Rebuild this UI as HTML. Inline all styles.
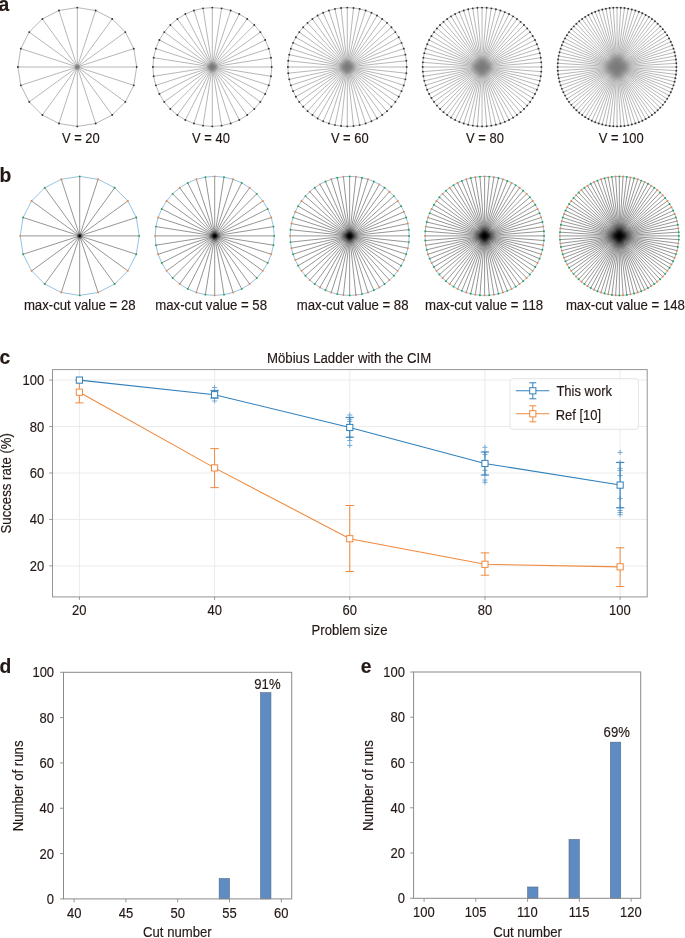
<!DOCTYPE html>
<html><head><meta charset="utf-8"><style>
html,body{margin:0;padding:0;background:#fff;}
svg{display:block;will-change:transform;}
text{font-family:"Liberation Sans",sans-serif;stroke:#231815;stroke-width:0.15px;}
</style></head><body>
<svg width="685" height="938" viewBox="0 0 685 938">

<path d="M136.70 67.00L17.90 67.00M133.79 48.64L20.81 85.36M125.36 32.09L29.24 101.91M112.21 18.94L42.39 115.06M95.66 10.51L58.94 123.49M77.30 7.60L77.30 126.40M58.94 10.51L95.66 123.49M42.39 18.94L112.21 115.06M29.24 32.09L125.36 101.91M20.81 48.64L133.79 85.36" stroke="#7a7a7a" stroke-width="0.55" fill="none"/>
<defs><radialGradient id="ga20"><stop offset="0" stop-color="#7a7a7a" stop-opacity="0.85"/><stop offset="0.5" stop-color="#7a7a7a" stop-opacity="0.6"/><stop offset="0.8" stop-color="#7a7a7a" stop-opacity="0.2"/><stop offset="1" stop-color="#7a7a7a" stop-opacity="0"/></radialGradient></defs><circle cx="77.30" cy="67.00" r="3.60" fill="url(#ga20)"/>
<path d="M136.70 67.00L133.79 48.64L125.36 32.09L112.21 18.94L95.66 10.51L77.30 7.60L58.94 10.51L42.39 18.94L29.24 32.09L20.81 48.64L17.90 67.00L20.81 85.36L29.24 101.91L42.39 115.06L58.94 123.49L77.30 126.40L95.66 123.49L112.21 115.06L125.36 101.91L133.79 85.36Z" stroke="#7a7a7a" stroke-width="0.55" fill="none"/>
<circle cx="136.70" cy="67.00" r="0.95" fill="#333"/>
<circle cx="133.79" cy="48.64" r="0.95" fill="#333"/>
<circle cx="125.36" cy="32.09" r="0.95" fill="#333"/>
<circle cx="112.21" cy="18.94" r="0.95" fill="#333"/>
<circle cx="95.66" cy="10.51" r="0.95" fill="#333"/>
<circle cx="77.30" cy="7.60" r="0.95" fill="#333"/>
<circle cx="58.94" cy="10.51" r="0.95" fill="#333"/>
<circle cx="42.39" cy="18.94" r="0.95" fill="#333"/>
<circle cx="29.24" cy="32.09" r="0.95" fill="#333"/>
<circle cx="20.81" cy="48.64" r="0.95" fill="#333"/>
<circle cx="17.90" cy="67.00" r="0.95" fill="#333"/>
<circle cx="20.81" cy="85.36" r="0.95" fill="#333"/>
<circle cx="29.24" cy="101.91" r="0.95" fill="#333"/>
<circle cx="42.39" cy="115.06" r="0.95" fill="#333"/>
<circle cx="58.94" cy="123.49" r="0.95" fill="#333"/>
<circle cx="77.30" cy="126.40" r="0.95" fill="#333"/>
<circle cx="95.66" cy="123.49" r="0.95" fill="#333"/>
<circle cx="112.21" cy="115.06" r="0.95" fill="#333"/>
<circle cx="125.36" cy="101.91" r="0.95" fill="#333"/>
<circle cx="133.79" cy="85.36" r="0.95" fill="#333"/>
<text transform="translate(61.99 142.50) scale(1 1.08)" font-size="12.95" text-anchor="start" font-weight="normal" fill="#231815">V = 20</text>
<path d="M271.70 67.00L152.90 67.00M270.97 57.71L153.63 76.29M268.79 48.64L155.81 85.36M265.23 40.03L159.37 93.97M260.36 32.09L164.24 101.91M254.30 25.00L170.30 109.00M247.21 18.94L177.39 115.06M239.27 14.07L185.33 119.93M230.66 10.51L193.94 123.49M221.59 8.33L203.01 125.67M212.30 7.60L212.30 126.40M203.01 8.33L221.59 125.67M193.94 10.51L230.66 123.49M185.33 14.07L239.27 119.93M177.39 18.94L247.21 115.06M170.30 25.00L254.30 109.00M164.24 32.09L260.36 101.91M159.37 40.03L265.23 93.97M155.81 48.64L268.79 85.36M153.63 57.71L270.97 76.29" stroke="#7a7a7a" stroke-width="0.55" fill="none"/>
<defs><radialGradient id="ga40"><stop offset="0" stop-color="#7a7a7a" stop-opacity="0.85"/><stop offset="0.5" stop-color="#7a7a7a" stop-opacity="0.6"/><stop offset="0.8" stop-color="#7a7a7a" stop-opacity="0.2"/><stop offset="1" stop-color="#7a7a7a" stop-opacity="0"/></radialGradient></defs><circle cx="212.30" cy="67.00" r="6.20" fill="url(#ga40)"/>
<path d="M271.70 67.00L270.97 57.71L268.79 48.64L265.23 40.03L260.36 32.09L254.30 25.00L247.21 18.94L239.27 14.07L230.66 10.51L221.59 8.33L212.30 7.60L203.01 8.33L193.94 10.51L185.33 14.07L177.39 18.94L170.30 25.00L164.24 32.09L159.37 40.03L155.81 48.64L153.63 57.71L152.90 67.00L153.63 76.29L155.81 85.36L159.37 93.97L164.24 101.91L170.30 109.00L177.39 115.06L185.33 119.93L193.94 123.49L203.01 125.67L212.30 126.40L221.59 125.67L230.66 123.49L239.27 119.93L247.21 115.06L254.30 109.00L260.36 101.91L265.23 93.97L268.79 85.36L270.97 76.29Z" stroke="#7a7a7a" stroke-width="0.55" fill="none"/>
<circle cx="271.70" cy="67.00" r="0.95" fill="#333"/>
<circle cx="270.97" cy="57.71" r="0.95" fill="#333"/>
<circle cx="268.79" cy="48.64" r="0.95" fill="#333"/>
<circle cx="265.23" cy="40.03" r="0.95" fill="#333"/>
<circle cx="260.36" cy="32.09" r="0.95" fill="#333"/>
<circle cx="254.30" cy="25.00" r="0.95" fill="#333"/>
<circle cx="247.21" cy="18.94" r="0.95" fill="#333"/>
<circle cx="239.27" cy="14.07" r="0.95" fill="#333"/>
<circle cx="230.66" cy="10.51" r="0.95" fill="#333"/>
<circle cx="221.59" cy="8.33" r="0.95" fill="#333"/>
<circle cx="212.30" cy="7.60" r="0.95" fill="#333"/>
<circle cx="203.01" cy="8.33" r="0.95" fill="#333"/>
<circle cx="193.94" cy="10.51" r="0.95" fill="#333"/>
<circle cx="185.33" cy="14.07" r="0.95" fill="#333"/>
<circle cx="177.39" cy="18.94" r="0.95" fill="#333"/>
<circle cx="170.30" cy="25.00" r="0.95" fill="#333"/>
<circle cx="164.24" cy="32.09" r="0.95" fill="#333"/>
<circle cx="159.37" cy="40.03" r="0.95" fill="#333"/>
<circle cx="155.81" cy="48.64" r="0.95" fill="#333"/>
<circle cx="153.63" cy="57.71" r="0.95" fill="#333"/>
<circle cx="152.90" cy="67.00" r="0.95" fill="#333"/>
<circle cx="153.63" cy="76.29" r="0.95" fill="#333"/>
<circle cx="155.81" cy="85.36" r="0.95" fill="#333"/>
<circle cx="159.37" cy="93.97" r="0.95" fill="#333"/>
<circle cx="164.24" cy="101.91" r="0.95" fill="#333"/>
<circle cx="170.30" cy="109.00" r="0.95" fill="#333"/>
<circle cx="177.39" cy="115.06" r="0.95" fill="#333"/>
<circle cx="185.33" cy="119.93" r="0.95" fill="#333"/>
<circle cx="193.94" cy="123.49" r="0.95" fill="#333"/>
<circle cx="203.01" cy="125.67" r="0.95" fill="#333"/>
<circle cx="212.30" cy="126.40" r="0.95" fill="#333"/>
<circle cx="221.59" cy="125.67" r="0.95" fill="#333"/>
<circle cx="230.66" cy="123.49" r="0.95" fill="#333"/>
<circle cx="239.27" cy="119.93" r="0.95" fill="#333"/>
<circle cx="247.21" cy="115.06" r="0.95" fill="#333"/>
<circle cx="254.30" cy="109.00" r="0.95" fill="#333"/>
<circle cx="260.36" cy="101.91" r="0.95" fill="#333"/>
<circle cx="265.23" cy="93.97" r="0.95" fill="#333"/>
<circle cx="268.79" cy="85.36" r="0.95" fill="#333"/>
<circle cx="270.97" cy="76.29" r="0.95" fill="#333"/>
<text transform="translate(192.09 142.50) scale(1 1.08)" font-size="12.95" text-anchor="start" font-weight="normal" fill="#231815">V = 40</text>
<path d="M406.70 67.00L287.90 67.00M406.37 60.79L288.23 73.21M405.40 54.65L289.20 79.35M403.79 48.64L290.81 85.36M401.56 42.84L293.04 91.16M398.74 37.30L295.86 96.70M395.36 32.09L299.24 101.91M391.44 27.25L303.16 106.75M387.05 22.86L307.55 111.14M382.21 18.94L312.39 115.06M377.00 15.56L317.60 118.44M371.46 12.74L323.14 121.26M365.66 10.51L328.94 123.49M359.65 8.90L334.95 125.10M353.51 7.93L341.09 126.07M347.30 7.60L347.30 126.40M341.09 7.93L353.51 126.07M334.95 8.90L359.65 125.10M328.94 10.51L365.66 123.49M323.14 12.74L371.46 121.26M317.60 15.56L377.00 118.44M312.39 18.94L382.21 115.06M307.55 22.86L387.05 111.14M303.16 27.25L391.44 106.75M299.24 32.09L395.36 101.91M295.86 37.30L398.74 96.70M293.04 42.84L401.56 91.16M290.81 48.64L403.79 85.36M289.20 54.65L405.40 79.35M288.23 60.79L406.37 73.21" stroke="#7a7a7a" stroke-width="0.55" fill="none"/>
<defs><radialGradient id="ga60"><stop offset="0" stop-color="#7a7a7a" stop-opacity="0.85"/><stop offset="0.5" stop-color="#7a7a7a" stop-opacity="0.6"/><stop offset="0.8" stop-color="#7a7a7a" stop-opacity="0.2"/><stop offset="1" stop-color="#7a7a7a" stop-opacity="0"/></radialGradient></defs><circle cx="347.30" cy="67.00" r="8.80" fill="url(#ga60)"/>
<path d="M406.70 67.00L406.37 60.79L405.40 54.65L403.79 48.64L401.56 42.84L398.74 37.30L395.36 32.09L391.44 27.25L387.05 22.86L382.21 18.94L377.00 15.56L371.46 12.74L365.66 10.51L359.65 8.90L353.51 7.93L347.30 7.60L341.09 7.93L334.95 8.90L328.94 10.51L323.14 12.74L317.60 15.56L312.39 18.94L307.55 22.86L303.16 27.25L299.24 32.09L295.86 37.30L293.04 42.84L290.81 48.64L289.20 54.65L288.23 60.79L287.90 67.00L288.23 73.21L289.20 79.35L290.81 85.36L293.04 91.16L295.86 96.70L299.24 101.91L303.16 106.75L307.55 111.14L312.39 115.06L317.60 118.44L323.14 121.26L328.94 123.49L334.95 125.10L341.09 126.07L347.30 126.40L353.51 126.07L359.65 125.10L365.66 123.49L371.46 121.26L377.00 118.44L382.21 115.06L387.05 111.14L391.44 106.75L395.36 101.91L398.74 96.70L401.56 91.16L403.79 85.36L405.40 79.35L406.37 73.21Z" stroke="#7a7a7a" stroke-width="0.55" fill="none"/>
<circle cx="406.70" cy="67.00" r="0.95" fill="#333"/>
<circle cx="406.37" cy="60.79" r="0.95" fill="#333"/>
<circle cx="405.40" cy="54.65" r="0.95" fill="#333"/>
<circle cx="403.79" cy="48.64" r="0.95" fill="#333"/>
<circle cx="401.56" cy="42.84" r="0.95" fill="#333"/>
<circle cx="398.74" cy="37.30" r="0.95" fill="#333"/>
<circle cx="395.36" cy="32.09" r="0.95" fill="#333"/>
<circle cx="391.44" cy="27.25" r="0.95" fill="#333"/>
<circle cx="387.05" cy="22.86" r="0.95" fill="#333"/>
<circle cx="382.21" cy="18.94" r="0.95" fill="#333"/>
<circle cx="377.00" cy="15.56" r="0.95" fill="#333"/>
<circle cx="371.46" cy="12.74" r="0.95" fill="#333"/>
<circle cx="365.66" cy="10.51" r="0.95" fill="#333"/>
<circle cx="359.65" cy="8.90" r="0.95" fill="#333"/>
<circle cx="353.51" cy="7.93" r="0.95" fill="#333"/>
<circle cx="347.30" cy="7.60" r="0.95" fill="#333"/>
<circle cx="341.09" cy="7.93" r="0.95" fill="#333"/>
<circle cx="334.95" cy="8.90" r="0.95" fill="#333"/>
<circle cx="328.94" cy="10.51" r="0.95" fill="#333"/>
<circle cx="323.14" cy="12.74" r="0.95" fill="#333"/>
<circle cx="317.60" cy="15.56" r="0.95" fill="#333"/>
<circle cx="312.39" cy="18.94" r="0.95" fill="#333"/>
<circle cx="307.55" cy="22.86" r="0.95" fill="#333"/>
<circle cx="303.16" cy="27.25" r="0.95" fill="#333"/>
<circle cx="299.24" cy="32.09" r="0.95" fill="#333"/>
<circle cx="295.86" cy="37.30" r="0.95" fill="#333"/>
<circle cx="293.04" cy="42.84" r="0.95" fill="#333"/>
<circle cx="290.81" cy="48.64" r="0.95" fill="#333"/>
<circle cx="289.20" cy="54.65" r="0.95" fill="#333"/>
<circle cx="288.23" cy="60.79" r="0.95" fill="#333"/>
<circle cx="287.90" cy="67.00" r="0.95" fill="#333"/>
<circle cx="288.23" cy="73.21" r="0.95" fill="#333"/>
<circle cx="289.20" cy="79.35" r="0.95" fill="#333"/>
<circle cx="290.81" cy="85.36" r="0.95" fill="#333"/>
<circle cx="293.04" cy="91.16" r="0.95" fill="#333"/>
<circle cx="295.86" cy="96.70" r="0.95" fill="#333"/>
<circle cx="299.24" cy="101.91" r="0.95" fill="#333"/>
<circle cx="303.16" cy="106.75" r="0.95" fill="#333"/>
<circle cx="307.55" cy="111.14" r="0.95" fill="#333"/>
<circle cx="312.39" cy="115.06" r="0.95" fill="#333"/>
<circle cx="317.60" cy="118.44" r="0.95" fill="#333"/>
<circle cx="323.14" cy="121.26" r="0.95" fill="#333"/>
<circle cx="328.94" cy="123.49" r="0.95" fill="#333"/>
<circle cx="334.95" cy="125.10" r="0.95" fill="#333"/>
<circle cx="341.09" cy="126.07" r="0.95" fill="#333"/>
<circle cx="347.30" cy="126.40" r="0.95" fill="#333"/>
<circle cx="353.51" cy="126.07" r="0.95" fill="#333"/>
<circle cx="359.65" cy="125.10" r="0.95" fill="#333"/>
<circle cx="365.66" cy="123.49" r="0.95" fill="#333"/>
<circle cx="371.46" cy="121.26" r="0.95" fill="#333"/>
<circle cx="377.00" cy="118.44" r="0.95" fill="#333"/>
<circle cx="382.21" cy="115.06" r="0.95" fill="#333"/>
<circle cx="387.05" cy="111.14" r="0.95" fill="#333"/>
<circle cx="391.44" cy="106.75" r="0.95" fill="#333"/>
<circle cx="395.36" cy="101.91" r="0.95" fill="#333"/>
<circle cx="398.74" cy="96.70" r="0.95" fill="#333"/>
<circle cx="401.56" cy="91.16" r="0.95" fill="#333"/>
<circle cx="403.79" cy="85.36" r="0.95" fill="#333"/>
<circle cx="405.40" cy="79.35" r="0.95" fill="#333"/>
<circle cx="406.37" cy="73.21" r="0.95" fill="#333"/>
<text transform="translate(330.89 142.50) scale(1 1.08)" font-size="12.95" text-anchor="start" font-weight="normal" fill="#231815">V = 60</text>
<path d="M541.45 67.00L422.65 67.00M541.27 62.34L422.83 71.66M540.72 57.71L423.38 76.29M539.81 53.13L424.29 80.87M538.54 48.64L425.56 85.36M536.93 44.27L427.17 89.73M534.98 40.03L429.12 93.97M532.70 35.96L431.40 98.04M530.11 32.09L433.99 101.91M527.22 28.42L436.88 105.58M524.05 25.00L440.05 109.00M520.63 21.83L443.47 112.17M516.96 18.94L447.14 115.06M513.09 16.35L451.01 117.65M509.02 14.07L455.08 119.93M504.78 12.12L459.32 121.88M500.41 10.51L463.69 123.49M495.92 9.24L468.18 124.76M491.34 8.33L472.76 125.67M486.71 7.78L477.39 126.22M482.05 7.60L482.05 126.40M477.39 7.78L486.71 126.22M472.76 8.33L491.34 125.67M468.18 9.24L495.92 124.76M463.69 10.51L500.41 123.49M459.32 12.12L504.78 121.88M455.08 14.07L509.02 119.93M451.01 16.35L513.09 117.65M447.14 18.94L516.96 115.06M443.47 21.83L520.63 112.17M440.05 25.00L524.05 109.00M436.88 28.42L527.22 105.58M433.99 32.09L530.11 101.91M431.40 35.96L532.70 98.04M429.12 40.03L534.98 93.97M427.17 44.27L536.93 89.73M425.56 48.64L538.54 85.36M424.29 53.13L539.81 80.87M423.38 57.71L540.72 76.29M422.83 62.34L541.27 71.66" stroke="#7a7a7a" stroke-width="0.55" fill="none"/>
<defs><radialGradient id="ga80"><stop offset="0" stop-color="#7a7a7a" stop-opacity="0.85"/><stop offset="0.5" stop-color="#7a7a7a" stop-opacity="0.6"/><stop offset="0.8" stop-color="#7a7a7a" stop-opacity="0.2"/><stop offset="1" stop-color="#7a7a7a" stop-opacity="0"/></radialGradient></defs><circle cx="482.05" cy="67.00" r="11.40" fill="url(#ga80)"/>
<path d="M541.45 67.00L541.27 62.34L540.72 57.71L539.81 53.13L538.54 48.64L536.93 44.27L534.98 40.03L532.70 35.96L530.11 32.09L527.22 28.42L524.05 25.00L520.63 21.83L516.96 18.94L513.09 16.35L509.02 14.07L504.78 12.12L500.41 10.51L495.92 9.24L491.34 8.33L486.71 7.78L482.05 7.60L477.39 7.78L472.76 8.33L468.18 9.24L463.69 10.51L459.32 12.12L455.08 14.07L451.01 16.35L447.14 18.94L443.47 21.83L440.05 25.00L436.88 28.42L433.99 32.09L431.40 35.96L429.12 40.03L427.17 44.27L425.56 48.64L424.29 53.13L423.38 57.71L422.83 62.34L422.65 67.00L422.83 71.66L423.38 76.29L424.29 80.87L425.56 85.36L427.17 89.73L429.12 93.97L431.40 98.04L433.99 101.91L436.88 105.58L440.05 109.00L443.47 112.17L447.14 115.06L451.01 117.65L455.08 119.93L459.32 121.88L463.69 123.49L468.18 124.76L472.76 125.67L477.39 126.22L482.05 126.40L486.71 126.22L491.34 125.67L495.92 124.76L500.41 123.49L504.78 121.88L509.02 119.93L513.09 117.65L516.96 115.06L520.63 112.17L524.05 109.00L527.22 105.58L530.11 101.91L532.70 98.04L534.98 93.97L536.93 89.73L538.54 85.36L539.81 80.87L540.72 76.29L541.27 71.66Z" stroke="#7a7a7a" stroke-width="0.55" fill="none"/>
<circle cx="541.45" cy="67.00" r="0.95" fill="#333"/>
<circle cx="541.27" cy="62.34" r="0.95" fill="#333"/>
<circle cx="540.72" cy="57.71" r="0.95" fill="#333"/>
<circle cx="539.81" cy="53.13" r="0.95" fill="#333"/>
<circle cx="538.54" cy="48.64" r="0.95" fill="#333"/>
<circle cx="536.93" cy="44.27" r="0.95" fill="#333"/>
<circle cx="534.98" cy="40.03" r="0.95" fill="#333"/>
<circle cx="532.70" cy="35.96" r="0.95" fill="#333"/>
<circle cx="530.11" cy="32.09" r="0.95" fill="#333"/>
<circle cx="527.22" cy="28.42" r="0.95" fill="#333"/>
<circle cx="524.05" cy="25.00" r="0.95" fill="#333"/>
<circle cx="520.63" cy="21.83" r="0.95" fill="#333"/>
<circle cx="516.96" cy="18.94" r="0.95" fill="#333"/>
<circle cx="513.09" cy="16.35" r="0.95" fill="#333"/>
<circle cx="509.02" cy="14.07" r="0.95" fill="#333"/>
<circle cx="504.78" cy="12.12" r="0.95" fill="#333"/>
<circle cx="500.41" cy="10.51" r="0.95" fill="#333"/>
<circle cx="495.92" cy="9.24" r="0.95" fill="#333"/>
<circle cx="491.34" cy="8.33" r="0.95" fill="#333"/>
<circle cx="486.71" cy="7.78" r="0.95" fill="#333"/>
<circle cx="482.05" cy="7.60" r="0.95" fill="#333"/>
<circle cx="477.39" cy="7.78" r="0.95" fill="#333"/>
<circle cx="472.76" cy="8.33" r="0.95" fill="#333"/>
<circle cx="468.18" cy="9.24" r="0.95" fill="#333"/>
<circle cx="463.69" cy="10.51" r="0.95" fill="#333"/>
<circle cx="459.32" cy="12.12" r="0.95" fill="#333"/>
<circle cx="455.08" cy="14.07" r="0.95" fill="#333"/>
<circle cx="451.01" cy="16.35" r="0.95" fill="#333"/>
<circle cx="447.14" cy="18.94" r="0.95" fill="#333"/>
<circle cx="443.47" cy="21.83" r="0.95" fill="#333"/>
<circle cx="440.05" cy="25.00" r="0.95" fill="#333"/>
<circle cx="436.88" cy="28.42" r="0.95" fill="#333"/>
<circle cx="433.99" cy="32.09" r="0.95" fill="#333"/>
<circle cx="431.40" cy="35.96" r="0.95" fill="#333"/>
<circle cx="429.12" cy="40.03" r="0.95" fill="#333"/>
<circle cx="427.17" cy="44.27" r="0.95" fill="#333"/>
<circle cx="425.56" cy="48.64" r="0.95" fill="#333"/>
<circle cx="424.29" cy="53.13" r="0.95" fill="#333"/>
<circle cx="423.38" cy="57.71" r="0.95" fill="#333"/>
<circle cx="422.83" cy="62.34" r="0.95" fill="#333"/>
<circle cx="422.65" cy="67.00" r="0.95" fill="#333"/>
<circle cx="422.83" cy="71.66" r="0.95" fill="#333"/>
<circle cx="423.38" cy="76.29" r="0.95" fill="#333"/>
<circle cx="424.29" cy="80.87" r="0.95" fill="#333"/>
<circle cx="425.56" cy="85.36" r="0.95" fill="#333"/>
<circle cx="427.17" cy="89.73" r="0.95" fill="#333"/>
<circle cx="429.12" cy="93.97" r="0.95" fill="#333"/>
<circle cx="431.40" cy="98.04" r="0.95" fill="#333"/>
<circle cx="433.99" cy="101.91" r="0.95" fill="#333"/>
<circle cx="436.88" cy="105.58" r="0.95" fill="#333"/>
<circle cx="440.05" cy="109.00" r="0.95" fill="#333"/>
<circle cx="443.47" cy="112.17" r="0.95" fill="#333"/>
<circle cx="447.14" cy="115.06" r="0.95" fill="#333"/>
<circle cx="451.01" cy="117.65" r="0.95" fill="#333"/>
<circle cx="455.08" cy="119.93" r="0.95" fill="#333"/>
<circle cx="459.32" cy="121.88" r="0.95" fill="#333"/>
<circle cx="463.69" cy="123.49" r="0.95" fill="#333"/>
<circle cx="468.18" cy="124.76" r="0.95" fill="#333"/>
<circle cx="472.76" cy="125.67" r="0.95" fill="#333"/>
<circle cx="477.39" cy="126.22" r="0.95" fill="#333"/>
<circle cx="482.05" cy="126.40" r="0.95" fill="#333"/>
<circle cx="486.71" cy="126.22" r="0.95" fill="#333"/>
<circle cx="491.34" cy="125.67" r="0.95" fill="#333"/>
<circle cx="495.92" cy="124.76" r="0.95" fill="#333"/>
<circle cx="500.41" cy="123.49" r="0.95" fill="#333"/>
<circle cx="504.78" cy="121.88" r="0.95" fill="#333"/>
<circle cx="509.02" cy="119.93" r="0.95" fill="#333"/>
<circle cx="513.09" cy="117.65" r="0.95" fill="#333"/>
<circle cx="516.96" cy="115.06" r="0.95" fill="#333"/>
<circle cx="520.63" cy="112.17" r="0.95" fill="#333"/>
<circle cx="524.05" cy="109.00" r="0.95" fill="#333"/>
<circle cx="527.22" cy="105.58" r="0.95" fill="#333"/>
<circle cx="530.11" cy="101.91" r="0.95" fill="#333"/>
<circle cx="532.70" cy="98.04" r="0.95" fill="#333"/>
<circle cx="534.98" cy="93.97" r="0.95" fill="#333"/>
<circle cx="536.93" cy="89.73" r="0.95" fill="#333"/>
<circle cx="538.54" cy="85.36" r="0.95" fill="#333"/>
<circle cx="539.81" cy="80.87" r="0.95" fill="#333"/>
<circle cx="540.72" cy="76.29" r="0.95" fill="#333"/>
<circle cx="541.27" cy="71.66" r="0.95" fill="#333"/>
<text transform="translate(466.09 142.50) scale(1 1.08)" font-size="12.95" text-anchor="start" font-weight="normal" fill="#231815">V = 80</text>
<path d="M676.45 67.00L557.65 67.00M676.33 63.27L557.77 70.73M675.98 59.56L558.12 74.44M675.40 55.87L558.70 78.13M674.58 52.23L559.52 81.77M673.54 48.64L560.56 85.36M672.28 45.13L561.82 88.87M670.80 41.71L563.30 92.29M669.10 38.38L565.00 95.62M667.20 35.17L566.90 98.83M665.11 32.09L568.99 101.91M662.82 29.14L571.28 104.86M660.35 26.34L573.75 107.66M657.71 23.70L576.39 110.30M654.91 21.23L579.19 112.77M651.96 18.94L582.14 115.06M648.88 16.85L585.22 117.15M645.67 14.95L588.43 119.05M642.34 13.25L591.76 120.75M638.92 11.77L595.18 122.23M635.41 10.51L598.69 123.49M631.82 9.47L602.28 124.53M628.18 8.65L605.92 125.35M624.49 8.07L609.61 125.93M620.78 7.72L613.32 126.28M617.05 7.60L617.05 126.40M613.32 7.72L620.78 126.28M609.61 8.07L624.49 125.93M605.92 8.65L628.18 125.35M602.28 9.47L631.82 124.53M598.69 10.51L635.41 123.49M595.18 11.77L638.92 122.23M591.76 13.25L642.34 120.75M588.43 14.95L645.67 119.05M585.22 16.85L648.88 117.15M582.14 18.94L651.96 115.06M579.19 21.23L654.91 112.77M576.39 23.70L657.71 110.30M573.75 26.34L660.35 107.66M571.28 29.14L662.82 104.86M568.99 32.09L665.11 101.91M566.90 35.17L667.20 98.83M565.00 38.38L669.10 95.62M563.30 41.71L670.80 92.29M561.82 45.13L672.28 88.87M560.56 48.64L673.54 85.36M559.52 52.23L674.58 81.77M558.70 55.87L675.40 78.13M558.12 59.56L675.98 74.44M557.77 63.27L676.33 70.73" stroke="#7a7a7a" stroke-width="0.55" fill="none"/>
<defs><radialGradient id="ga100"><stop offset="0" stop-color="#7a7a7a" stop-opacity="0.85"/><stop offset="0.5" stop-color="#7a7a7a" stop-opacity="0.6"/><stop offset="0.8" stop-color="#7a7a7a" stop-opacity="0.2"/><stop offset="1" stop-color="#7a7a7a" stop-opacity="0"/></radialGradient></defs><circle cx="617.05" cy="67.00" r="14.00" fill="url(#ga100)"/>
<path d="M676.45 67.00L676.33 63.27L675.98 59.56L675.40 55.87L674.58 52.23L673.54 48.64L672.28 45.13L670.80 41.71L669.10 38.38L667.20 35.17L665.11 32.09L662.82 29.14L660.35 26.34L657.71 23.70L654.91 21.23L651.96 18.94L648.88 16.85L645.67 14.95L642.34 13.25L638.92 11.77L635.41 10.51L631.82 9.47L628.18 8.65L624.49 8.07L620.78 7.72L617.05 7.60L613.32 7.72L609.61 8.07L605.92 8.65L602.28 9.47L598.69 10.51L595.18 11.77L591.76 13.25L588.43 14.95L585.22 16.85L582.14 18.94L579.19 21.23L576.39 23.70L573.75 26.34L571.28 29.14L568.99 32.09L566.90 35.17L565.00 38.38L563.30 41.71L561.82 45.13L560.56 48.64L559.52 52.23L558.70 55.87L558.12 59.56L557.77 63.27L557.65 67.00L557.77 70.73L558.12 74.44L558.70 78.13L559.52 81.77L560.56 85.36L561.82 88.87L563.30 92.29L565.00 95.62L566.90 98.83L568.99 101.91L571.28 104.86L573.75 107.66L576.39 110.30L579.19 112.77L582.14 115.06L585.22 117.15L588.43 119.05L591.76 120.75L595.18 122.23L598.69 123.49L602.28 124.53L605.92 125.35L609.61 125.93L613.32 126.28L617.05 126.40L620.78 126.28L624.49 125.93L628.18 125.35L631.82 124.53L635.41 123.49L638.92 122.23L642.34 120.75L645.67 119.05L648.88 117.15L651.96 115.06L654.91 112.77L657.71 110.30L660.35 107.66L662.82 104.86L665.11 101.91L667.20 98.83L669.10 95.62L670.80 92.29L672.28 88.87L673.54 85.36L674.58 81.77L675.40 78.13L675.98 74.44L676.33 70.73Z" stroke="#7a7a7a" stroke-width="0.55" fill="none"/>
<circle cx="676.45" cy="67.00" r="0.95" fill="#333"/>
<circle cx="676.33" cy="63.27" r="0.95" fill="#333"/>
<circle cx="675.98" cy="59.56" r="0.95" fill="#333"/>
<circle cx="675.40" cy="55.87" r="0.95" fill="#333"/>
<circle cx="674.58" cy="52.23" r="0.95" fill="#333"/>
<circle cx="673.54" cy="48.64" r="0.95" fill="#333"/>
<circle cx="672.28" cy="45.13" r="0.95" fill="#333"/>
<circle cx="670.80" cy="41.71" r="0.95" fill="#333"/>
<circle cx="669.10" cy="38.38" r="0.95" fill="#333"/>
<circle cx="667.20" cy="35.17" r="0.95" fill="#333"/>
<circle cx="665.11" cy="32.09" r="0.95" fill="#333"/>
<circle cx="662.82" cy="29.14" r="0.95" fill="#333"/>
<circle cx="660.35" cy="26.34" r="0.95" fill="#333"/>
<circle cx="657.71" cy="23.70" r="0.95" fill="#333"/>
<circle cx="654.91" cy="21.23" r="0.95" fill="#333"/>
<circle cx="651.96" cy="18.94" r="0.95" fill="#333"/>
<circle cx="648.88" cy="16.85" r="0.95" fill="#333"/>
<circle cx="645.67" cy="14.95" r="0.95" fill="#333"/>
<circle cx="642.34" cy="13.25" r="0.95" fill="#333"/>
<circle cx="638.92" cy="11.77" r="0.95" fill="#333"/>
<circle cx="635.41" cy="10.51" r="0.95" fill="#333"/>
<circle cx="631.82" cy="9.47" r="0.95" fill="#333"/>
<circle cx="628.18" cy="8.65" r="0.95" fill="#333"/>
<circle cx="624.49" cy="8.07" r="0.95" fill="#333"/>
<circle cx="620.78" cy="7.72" r="0.95" fill="#333"/>
<circle cx="617.05" cy="7.60" r="0.95" fill="#333"/>
<circle cx="613.32" cy="7.72" r="0.95" fill="#333"/>
<circle cx="609.61" cy="8.07" r="0.95" fill="#333"/>
<circle cx="605.92" cy="8.65" r="0.95" fill="#333"/>
<circle cx="602.28" cy="9.47" r="0.95" fill="#333"/>
<circle cx="598.69" cy="10.51" r="0.95" fill="#333"/>
<circle cx="595.18" cy="11.77" r="0.95" fill="#333"/>
<circle cx="591.76" cy="13.25" r="0.95" fill="#333"/>
<circle cx="588.43" cy="14.95" r="0.95" fill="#333"/>
<circle cx="585.22" cy="16.85" r="0.95" fill="#333"/>
<circle cx="582.14" cy="18.94" r="0.95" fill="#333"/>
<circle cx="579.19" cy="21.23" r="0.95" fill="#333"/>
<circle cx="576.39" cy="23.70" r="0.95" fill="#333"/>
<circle cx="573.75" cy="26.34" r="0.95" fill="#333"/>
<circle cx="571.28" cy="29.14" r="0.95" fill="#333"/>
<circle cx="568.99" cy="32.09" r="0.95" fill="#333"/>
<circle cx="566.90" cy="35.17" r="0.95" fill="#333"/>
<circle cx="565.00" cy="38.38" r="0.95" fill="#333"/>
<circle cx="563.30" cy="41.71" r="0.95" fill="#333"/>
<circle cx="561.82" cy="45.13" r="0.95" fill="#333"/>
<circle cx="560.56" cy="48.64" r="0.95" fill="#333"/>
<circle cx="559.52" cy="52.23" r="0.95" fill="#333"/>
<circle cx="558.70" cy="55.87" r="0.95" fill="#333"/>
<circle cx="558.12" cy="59.56" r="0.95" fill="#333"/>
<circle cx="557.77" cy="63.27" r="0.95" fill="#333"/>
<circle cx="557.65" cy="67.00" r="0.95" fill="#333"/>
<circle cx="557.77" cy="70.73" r="0.95" fill="#333"/>
<circle cx="558.12" cy="74.44" r="0.95" fill="#333"/>
<circle cx="558.70" cy="78.13" r="0.95" fill="#333"/>
<circle cx="559.52" cy="81.77" r="0.95" fill="#333"/>
<circle cx="560.56" cy="85.36" r="0.95" fill="#333"/>
<circle cx="561.82" cy="88.87" r="0.95" fill="#333"/>
<circle cx="563.30" cy="92.29" r="0.95" fill="#333"/>
<circle cx="565.00" cy="95.62" r="0.95" fill="#333"/>
<circle cx="566.90" cy="98.83" r="0.95" fill="#333"/>
<circle cx="568.99" cy="101.91" r="0.95" fill="#333"/>
<circle cx="571.28" cy="104.86" r="0.95" fill="#333"/>
<circle cx="573.75" cy="107.66" r="0.95" fill="#333"/>
<circle cx="576.39" cy="110.30" r="0.95" fill="#333"/>
<circle cx="579.19" cy="112.77" r="0.95" fill="#333"/>
<circle cx="582.14" cy="115.06" r="0.95" fill="#333"/>
<circle cx="585.22" cy="117.15" r="0.95" fill="#333"/>
<circle cx="588.43" cy="119.05" r="0.95" fill="#333"/>
<circle cx="591.76" cy="120.75" r="0.95" fill="#333"/>
<circle cx="595.18" cy="122.23" r="0.95" fill="#333"/>
<circle cx="598.69" cy="123.49" r="0.95" fill="#333"/>
<circle cx="602.28" cy="124.53" r="0.95" fill="#333"/>
<circle cx="605.92" cy="125.35" r="0.95" fill="#333"/>
<circle cx="609.61" cy="125.93" r="0.95" fill="#333"/>
<circle cx="613.32" cy="126.28" r="0.95" fill="#333"/>
<circle cx="617.05" cy="126.40" r="0.95" fill="#333"/>
<circle cx="620.78" cy="126.28" r="0.95" fill="#333"/>
<circle cx="624.49" cy="125.93" r="0.95" fill="#333"/>
<circle cx="628.18" cy="125.35" r="0.95" fill="#333"/>
<circle cx="631.82" cy="124.53" r="0.95" fill="#333"/>
<circle cx="635.41" cy="123.49" r="0.95" fill="#333"/>
<circle cx="638.92" cy="122.23" r="0.95" fill="#333"/>
<circle cx="642.34" cy="120.75" r="0.95" fill="#333"/>
<circle cx="645.67" cy="119.05" r="0.95" fill="#333"/>
<circle cx="648.88" cy="117.15" r="0.95" fill="#333"/>
<circle cx="651.96" cy="115.06" r="0.95" fill="#333"/>
<circle cx="654.91" cy="112.77" r="0.95" fill="#333"/>
<circle cx="657.71" cy="110.30" r="0.95" fill="#333"/>
<circle cx="660.35" cy="107.66" r="0.95" fill="#333"/>
<circle cx="662.82" cy="104.86" r="0.95" fill="#333"/>
<circle cx="665.11" cy="101.91" r="0.95" fill="#333"/>
<circle cx="667.20" cy="98.83" r="0.95" fill="#333"/>
<circle cx="669.10" cy="95.62" r="0.95" fill="#333"/>
<circle cx="670.80" cy="92.29" r="0.95" fill="#333"/>
<circle cx="672.28" cy="88.87" r="0.95" fill="#333"/>
<circle cx="673.54" cy="85.36" r="0.95" fill="#333"/>
<circle cx="674.58" cy="81.77" r="0.95" fill="#333"/>
<circle cx="675.40" cy="78.13" r="0.95" fill="#333"/>
<circle cx="675.98" cy="74.44" r="0.95" fill="#333"/>
<circle cx="676.33" cy="70.73" r="0.95" fill="#333"/>
<text transform="translate(598.69 142.50) scale(1 1.08)" font-size="12.95" text-anchor="start" font-weight="normal" fill="#231815">V = 100</text>
<path d="M139.20 235.90L20.20 235.90M136.29 217.51L23.11 254.29M127.84 200.93L31.56 270.87M114.67 187.76L44.73 284.04M98.09 179.31L61.31 292.49M79.70 176.40L79.70 295.40M61.31 179.31L98.09 292.49M44.73 187.76L114.67 284.04M31.56 200.93L127.84 270.87M23.11 217.51L136.29 254.29" stroke="#000" stroke-width="0.42" fill="none"/>
<defs><radialGradient id="gb20"><stop offset="0" stop-color="#000" stop-opacity="0.9"/><stop offset="0.25" stop-color="#000" stop-opacity="0.6"/><stop offset="0.55" stop-color="#000" stop-opacity="0.22"/><stop offset="1" stop-color="#000" stop-opacity="0"/></radialGradient></defs><circle cx="79.70" cy="235.90" r="3.60" fill="url(#gb20)"/>
<path d="M139.20 235.90L136.29 217.51L127.84 200.93L114.67 187.76L98.09 179.31L79.70 176.40L61.31 179.31L44.73 187.76L31.56 200.93L23.11 217.51L20.20 235.90L23.11 254.29L31.56 270.87L44.73 284.04L61.31 292.49L79.70 295.40L98.09 292.49L114.67 284.04L127.84 270.87L136.29 254.29Z" stroke="#6aa6d6" stroke-width="0.7" fill="none"/>
<circle cx="139.20" cy="235.90" r="0.95" fill="#2e9e46"/>
<circle cx="136.29" cy="217.51" r="0.95" fill="#2e9e46"/>
<circle cx="127.84" cy="200.93" r="0.95" fill="#f5813a"/>
<circle cx="114.67" cy="187.76" r="0.95" fill="#2e9e46"/>
<circle cx="98.09" cy="179.31" r="0.95" fill="#f5813a"/>
<circle cx="79.70" cy="176.40" r="0.95" fill="#2e9e46"/>
<circle cx="61.31" cy="179.31" r="0.95" fill="#f5813a"/>
<circle cx="44.73" cy="187.76" r="0.95" fill="#2e9e46"/>
<circle cx="31.56" cy="200.93" r="0.95" fill="#f5813a"/>
<circle cx="23.11" cy="217.51" r="0.95" fill="#2e9e46"/>
<circle cx="20.20" cy="235.90" r="0.95" fill="#f5813a"/>
<circle cx="23.11" cy="254.29" r="0.95" fill="#2e9e46"/>
<circle cx="31.56" cy="270.87" r="0.95" fill="#f5813a"/>
<circle cx="44.73" cy="284.04" r="0.95" fill="#2e9e46"/>
<circle cx="61.31" cy="292.49" r="0.95" fill="#f5813a"/>
<circle cx="79.70" cy="295.40" r="0.95" fill="#2e9e46"/>
<circle cx="98.09" cy="292.49" r="0.95" fill="#f5813a"/>
<circle cx="114.67" cy="284.04" r="0.95" fill="#2e9e46"/>
<circle cx="127.84" cy="270.87" r="0.95" fill="#f5813a"/>
<circle cx="136.29" cy="254.29" r="0.95" fill="#2e9e46"/>
<text transform="translate(23.89 309.90) scale(1 1.08)" font-size="13.2" text-anchor="start" font-weight="normal" fill="#231815">max-cut value = 28</text>
<path d="M274.20 235.90L155.20 235.90M273.47 226.59L155.93 245.21M271.29 217.51L158.11 254.29M267.71 208.89L161.69 262.91M262.84 200.93L166.56 270.87M256.77 193.83L172.63 277.97M249.67 187.76L179.73 284.04M241.71 182.89L187.69 288.91M233.09 179.31L196.31 292.49M224.01 177.13L205.39 294.67M214.70 176.40L214.70 295.40M205.39 177.13L224.01 294.67M196.31 179.31L233.09 292.49M187.69 182.89L241.71 288.91M179.73 187.76L249.67 284.04M172.63 193.83L256.77 277.97M166.56 200.93L262.84 270.87M161.69 208.89L267.71 262.91M158.11 217.51L271.29 254.29M155.93 226.59L273.47 245.21" stroke="#000" stroke-width="0.42" fill="none"/>
<defs><radialGradient id="gb40"><stop offset="0" stop-color="#000" stop-opacity="0.9"/><stop offset="0.25" stop-color="#000" stop-opacity="0.6"/><stop offset="0.55" stop-color="#000" stop-opacity="0.22"/><stop offset="1" stop-color="#000" stop-opacity="0"/></radialGradient></defs><circle cx="214.70" cy="235.90" r="6.20" fill="url(#gb40)"/>
<path d="M274.20 235.90L273.47 226.59L271.29 217.51L267.71 208.89L262.84 200.93L256.77 193.83L249.67 187.76L241.71 182.89L233.09 179.31L224.01 177.13L214.70 176.40L205.39 177.13L196.31 179.31L187.69 182.89L179.73 187.76L172.63 193.83L166.56 200.93L161.69 208.89L158.11 217.51L155.93 226.59L155.20 235.90L155.93 245.21L158.11 254.29L161.69 262.91L166.56 270.87L172.63 277.97L179.73 284.04L187.69 288.91L196.31 292.49L205.39 294.67L214.70 295.40L224.01 294.67L233.09 292.49L241.71 288.91L249.67 284.04L256.77 277.97L262.84 270.87L267.71 262.91L271.29 254.29L273.47 245.21Z" stroke="#6aa6d6" stroke-width="0.7" fill="none"/>
<circle cx="274.20" cy="235.90" r="0.95" fill="#2e9e46"/>
<circle cx="273.47" cy="226.59" r="0.95" fill="#2e9e46"/>
<circle cx="271.29" cy="217.51" r="0.95" fill="#f5813a"/>
<circle cx="267.71" cy="208.89" r="0.95" fill="#2e9e46"/>
<circle cx="262.84" cy="200.93" r="0.95" fill="#f5813a"/>
<circle cx="256.77" cy="193.83" r="0.95" fill="#2e9e46"/>
<circle cx="249.67" cy="187.76" r="0.95" fill="#f5813a"/>
<circle cx="241.71" cy="182.89" r="0.95" fill="#2e9e46"/>
<circle cx="233.09" cy="179.31" r="0.95" fill="#f5813a"/>
<circle cx="224.01" cy="177.13" r="0.95" fill="#2e9e46"/>
<circle cx="214.70" cy="176.40" r="0.95" fill="#f5813a"/>
<circle cx="205.39" cy="177.13" r="0.95" fill="#2e9e46"/>
<circle cx="196.31" cy="179.31" r="0.95" fill="#f5813a"/>
<circle cx="187.69" cy="182.89" r="0.95" fill="#2e9e46"/>
<circle cx="179.73" cy="187.76" r="0.95" fill="#f5813a"/>
<circle cx="172.63" cy="193.83" r="0.95" fill="#2e9e46"/>
<circle cx="166.56" cy="200.93" r="0.95" fill="#f5813a"/>
<circle cx="161.69" cy="208.89" r="0.95" fill="#2e9e46"/>
<circle cx="158.11" cy="217.51" r="0.95" fill="#f5813a"/>
<circle cx="155.93" cy="226.59" r="0.95" fill="#2e9e46"/>
<circle cx="155.20" cy="235.90" r="0.95" fill="#f5813a"/>
<circle cx="155.93" cy="245.21" r="0.95" fill="#2e9e46"/>
<circle cx="158.11" cy="254.29" r="0.95" fill="#f5813a"/>
<circle cx="161.69" cy="262.91" r="0.95" fill="#2e9e46"/>
<circle cx="166.56" cy="270.87" r="0.95" fill="#f5813a"/>
<circle cx="172.63" cy="277.97" r="0.95" fill="#2e9e46"/>
<circle cx="179.73" cy="284.04" r="0.95" fill="#f5813a"/>
<circle cx="187.69" cy="288.91" r="0.95" fill="#2e9e46"/>
<circle cx="196.31" cy="292.49" r="0.95" fill="#f5813a"/>
<circle cx="205.39" cy="294.67" r="0.95" fill="#2e9e46"/>
<circle cx="214.70" cy="295.40" r="0.95" fill="#f5813a"/>
<circle cx="224.01" cy="294.67" r="0.95" fill="#2e9e46"/>
<circle cx="233.09" cy="292.49" r="0.95" fill="#f5813a"/>
<circle cx="241.71" cy="288.91" r="0.95" fill="#2e9e46"/>
<circle cx="249.67" cy="284.04" r="0.95" fill="#f5813a"/>
<circle cx="256.77" cy="277.97" r="0.95" fill="#2e9e46"/>
<circle cx="262.84" cy="270.87" r="0.95" fill="#f5813a"/>
<circle cx="267.71" cy="262.91" r="0.95" fill="#2e9e46"/>
<circle cx="271.29" cy="254.29" r="0.95" fill="#f5813a"/>
<circle cx="273.47" cy="245.21" r="0.95" fill="#2e9e46"/>
<text transform="translate(155.29 309.90) scale(1 1.08)" font-size="13.2" text-anchor="start" font-weight="normal" fill="#231815">max-cut value = 58</text>
<path d="M409.15 235.90L290.15 235.90M408.82 229.68L290.48 242.12M407.85 223.53L291.45 248.27M406.24 217.51L293.06 254.29M404.01 211.70L295.29 260.10M401.18 206.15L298.12 265.65M397.79 200.93L301.51 270.87M393.87 196.09L305.43 275.71M389.46 191.68L309.84 280.12M384.62 187.76L314.68 284.04M379.40 184.37L319.90 287.43M373.85 181.54L325.45 290.26M368.04 179.31L331.26 292.49M362.02 177.70L337.28 294.10M355.87 176.73L343.43 295.07M349.65 176.40L349.65 295.40M343.43 176.73L355.87 295.07M337.28 177.70L362.02 294.10M331.26 179.31L368.04 292.49M325.45 181.54L373.85 290.26M319.90 184.37L379.40 287.43M314.68 187.76L384.62 284.04M309.84 191.68L389.46 280.12M305.43 196.09L393.87 275.71M301.51 200.93L397.79 270.87M298.12 206.15L401.18 265.65M295.29 211.70L404.01 260.10M293.06 217.51L406.24 254.29M291.45 223.53L407.85 248.27M290.48 229.68L408.82 242.12" stroke="#000" stroke-width="0.42" fill="none"/>
<defs><radialGradient id="gb60"><stop offset="0" stop-color="#000" stop-opacity="0.9"/><stop offset="0.25" stop-color="#000" stop-opacity="0.6"/><stop offset="0.55" stop-color="#000" stop-opacity="0.22"/><stop offset="1" stop-color="#000" stop-opacity="0"/></radialGradient></defs><circle cx="349.65" cy="235.90" r="8.80" fill="url(#gb60)"/>
<path d="M409.15 235.90L408.82 229.68L407.85 223.53L406.24 217.51L404.01 211.70L401.18 206.15L397.79 200.93L393.87 196.09L389.46 191.68L384.62 187.76L379.40 184.37L373.85 181.54L368.04 179.31L362.02 177.70L355.87 176.73L349.65 176.40L343.43 176.73L337.28 177.70L331.26 179.31L325.45 181.54L319.90 184.37L314.68 187.76L309.84 191.68L305.43 196.09L301.51 200.93L298.12 206.15L295.29 211.70L293.06 217.51L291.45 223.53L290.48 229.68L290.15 235.90L290.48 242.12L291.45 248.27L293.06 254.29L295.29 260.10L298.12 265.65L301.51 270.87L305.43 275.71L309.84 280.12L314.68 284.04L319.90 287.43L325.45 290.26L331.26 292.49L337.28 294.10L343.43 295.07L349.65 295.40L355.87 295.07L362.02 294.10L368.04 292.49L373.85 290.26L379.40 287.43L384.62 284.04L389.46 280.12L393.87 275.71L397.79 270.87L401.18 265.65L404.01 260.10L406.24 254.29L407.85 248.27L408.82 242.12Z" stroke="#6aa6d6" stroke-width="0.7" fill="none"/>
<circle cx="409.15" cy="235.90" r="0.95" fill="#2e9e46"/>
<circle cx="408.82" cy="229.68" r="0.95" fill="#2e9e46"/>
<circle cx="407.85" cy="223.53" r="0.95" fill="#f5813a"/>
<circle cx="406.24" cy="217.51" r="0.95" fill="#2e9e46"/>
<circle cx="404.01" cy="211.70" r="0.95" fill="#f5813a"/>
<circle cx="401.18" cy="206.15" r="0.95" fill="#2e9e46"/>
<circle cx="397.79" cy="200.93" r="0.95" fill="#f5813a"/>
<circle cx="393.87" cy="196.09" r="0.95" fill="#2e9e46"/>
<circle cx="389.46" cy="191.68" r="0.95" fill="#f5813a"/>
<circle cx="384.62" cy="187.76" r="0.95" fill="#2e9e46"/>
<circle cx="379.40" cy="184.37" r="0.95" fill="#f5813a"/>
<circle cx="373.85" cy="181.54" r="0.95" fill="#2e9e46"/>
<circle cx="368.04" cy="179.31" r="0.95" fill="#f5813a"/>
<circle cx="362.02" cy="177.70" r="0.95" fill="#2e9e46"/>
<circle cx="355.87" cy="176.73" r="0.95" fill="#f5813a"/>
<circle cx="349.65" cy="176.40" r="0.95" fill="#2e9e46"/>
<circle cx="343.43" cy="176.73" r="0.95" fill="#f5813a"/>
<circle cx="337.28" cy="177.70" r="0.95" fill="#2e9e46"/>
<circle cx="331.26" cy="179.31" r="0.95" fill="#f5813a"/>
<circle cx="325.45" cy="181.54" r="0.95" fill="#2e9e46"/>
<circle cx="319.90" cy="184.37" r="0.95" fill="#f5813a"/>
<circle cx="314.68" cy="187.76" r="0.95" fill="#2e9e46"/>
<circle cx="309.84" cy="191.68" r="0.95" fill="#f5813a"/>
<circle cx="305.43" cy="196.09" r="0.95" fill="#2e9e46"/>
<circle cx="301.51" cy="200.93" r="0.95" fill="#f5813a"/>
<circle cx="298.12" cy="206.15" r="0.95" fill="#2e9e46"/>
<circle cx="295.29" cy="211.70" r="0.95" fill="#f5813a"/>
<circle cx="293.06" cy="217.51" r="0.95" fill="#2e9e46"/>
<circle cx="291.45" cy="223.53" r="0.95" fill="#f5813a"/>
<circle cx="290.48" cy="229.68" r="0.95" fill="#2e9e46"/>
<circle cx="290.15" cy="235.90" r="0.95" fill="#f5813a"/>
<circle cx="290.48" cy="242.12" r="0.95" fill="#2e9e46"/>
<circle cx="291.45" cy="248.27" r="0.95" fill="#f5813a"/>
<circle cx="293.06" cy="254.29" r="0.95" fill="#2e9e46"/>
<circle cx="295.29" cy="260.10" r="0.95" fill="#f5813a"/>
<circle cx="298.12" cy="265.65" r="0.95" fill="#2e9e46"/>
<circle cx="301.51" cy="270.87" r="0.95" fill="#f5813a"/>
<circle cx="305.43" cy="275.71" r="0.95" fill="#2e9e46"/>
<circle cx="309.84" cy="280.12" r="0.95" fill="#f5813a"/>
<circle cx="314.68" cy="284.04" r="0.95" fill="#2e9e46"/>
<circle cx="319.90" cy="287.43" r="0.95" fill="#f5813a"/>
<circle cx="325.45" cy="290.26" r="0.95" fill="#2e9e46"/>
<circle cx="331.26" cy="292.49" r="0.95" fill="#f5813a"/>
<circle cx="337.28" cy="294.10" r="0.95" fill="#2e9e46"/>
<circle cx="343.43" cy="295.07" r="0.95" fill="#f5813a"/>
<circle cx="349.65" cy="295.40" r="0.95" fill="#2e9e46"/>
<circle cx="355.87" cy="295.07" r="0.95" fill="#f5813a"/>
<circle cx="362.02" cy="294.10" r="0.95" fill="#2e9e46"/>
<circle cx="368.04" cy="292.49" r="0.95" fill="#f5813a"/>
<circle cx="373.85" cy="290.26" r="0.95" fill="#2e9e46"/>
<circle cx="379.40" cy="287.43" r="0.95" fill="#f5813a"/>
<circle cx="384.62" cy="284.04" r="0.95" fill="#2e9e46"/>
<circle cx="389.46" cy="280.12" r="0.95" fill="#f5813a"/>
<circle cx="393.87" cy="275.71" r="0.95" fill="#2e9e46"/>
<circle cx="397.79" cy="270.87" r="0.95" fill="#f5813a"/>
<circle cx="401.18" cy="265.65" r="0.95" fill="#2e9e46"/>
<circle cx="404.01" cy="260.10" r="0.95" fill="#f5813a"/>
<circle cx="406.24" cy="254.29" r="0.95" fill="#2e9e46"/>
<circle cx="407.85" cy="248.27" r="0.95" fill="#f5813a"/>
<circle cx="408.82" cy="242.12" r="0.95" fill="#2e9e46"/>
<text transform="translate(296.79 309.90) scale(1 1.08)" font-size="13.2" text-anchor="start" font-weight="normal" fill="#231815">max-cut value = 88</text>
<path d="M544.10 235.90L425.10 235.90M543.92 231.23L425.28 240.57M543.37 226.59L425.83 245.21M542.46 222.01L426.74 249.79M541.19 217.51L428.01 254.29M539.57 213.13L429.63 258.67M537.61 208.89L431.59 262.91M535.33 204.81L433.87 266.99M532.74 200.93L436.46 270.87M529.84 197.26L439.36 274.54M526.67 193.83L442.53 277.97M523.24 190.66L445.96 281.14M519.57 187.76L449.63 284.04M515.69 185.17L453.51 286.63M511.61 182.89L457.59 288.91M507.37 180.93L461.83 290.87M502.99 179.31L466.21 292.49M498.49 178.04L470.71 293.76M493.91 177.13L475.29 294.67M489.27 176.58L479.93 295.22M484.60 176.40L484.60 295.40M479.93 176.58L489.27 295.22M475.29 177.13L493.91 294.67M470.71 178.04L498.49 293.76M466.21 179.31L502.99 292.49M461.83 180.93L507.37 290.87M457.59 182.89L511.61 288.91M453.51 185.17L515.69 286.63M449.63 187.76L519.57 284.04M445.96 190.66L523.24 281.14M442.53 193.83L526.67 277.97M439.36 197.26L529.84 274.54M436.46 200.93L532.74 270.87M433.87 204.81L535.33 266.99M431.59 208.89L537.61 262.91M429.63 213.13L539.57 258.67M428.01 217.51L541.19 254.29M426.74 222.01L542.46 249.79M425.83 226.59L543.37 245.21M425.28 231.23L543.92 240.57" stroke="#000" stroke-width="0.42" fill="none"/>
<defs><radialGradient id="gb80"><stop offset="0" stop-color="#000" stop-opacity="0.9"/><stop offset="0.25" stop-color="#000" stop-opacity="0.6"/><stop offset="0.55" stop-color="#000" stop-opacity="0.22"/><stop offset="1" stop-color="#000" stop-opacity="0"/></radialGradient></defs><circle cx="484.60" cy="235.90" r="11.40" fill="url(#gb80)"/>
<path d="M544.10 235.90L543.92 231.23L543.37 226.59L542.46 222.01L541.19 217.51L539.57 213.13L537.61 208.89L535.33 204.81L532.74 200.93L529.84 197.26L526.67 193.83L523.24 190.66L519.57 187.76L515.69 185.17L511.61 182.89L507.37 180.93L502.99 179.31L498.49 178.04L493.91 177.13L489.27 176.58L484.60 176.40L479.93 176.58L475.29 177.13L470.71 178.04L466.21 179.31L461.83 180.93L457.59 182.89L453.51 185.17L449.63 187.76L445.96 190.66L442.53 193.83L439.36 197.26L436.46 200.93L433.87 204.81L431.59 208.89L429.63 213.13L428.01 217.51L426.74 222.01L425.83 226.59L425.28 231.23L425.10 235.90L425.28 240.57L425.83 245.21L426.74 249.79L428.01 254.29L429.63 258.67L431.59 262.91L433.87 266.99L436.46 270.87L439.36 274.54L442.53 277.97L445.96 281.14L449.63 284.04L453.51 286.63L457.59 288.91L461.83 290.87L466.21 292.49L470.71 293.76L475.29 294.67L479.93 295.22L484.60 295.40L489.27 295.22L493.91 294.67L498.49 293.76L502.99 292.49L507.37 290.87L511.61 288.91L515.69 286.63L519.57 284.04L523.24 281.14L526.67 277.97L529.84 274.54L532.74 270.87L535.33 266.99L537.61 262.91L539.57 258.67L541.19 254.29L542.46 249.79L543.37 245.21L543.92 240.57Z" stroke="#6aa6d6" stroke-width="0.7" fill="none"/>
<circle cx="544.10" cy="235.90" r="0.95" fill="#2e9e46"/>
<circle cx="543.92" cy="231.23" r="0.95" fill="#2e9e46"/>
<circle cx="543.37" cy="226.59" r="0.95" fill="#f5813a"/>
<circle cx="542.46" cy="222.01" r="0.95" fill="#2e9e46"/>
<circle cx="541.19" cy="217.51" r="0.95" fill="#f5813a"/>
<circle cx="539.57" cy="213.13" r="0.95" fill="#2e9e46"/>
<circle cx="537.61" cy="208.89" r="0.95" fill="#f5813a"/>
<circle cx="535.33" cy="204.81" r="0.95" fill="#2e9e46"/>
<circle cx="532.74" cy="200.93" r="0.95" fill="#f5813a"/>
<circle cx="529.84" cy="197.26" r="0.95" fill="#2e9e46"/>
<circle cx="526.67" cy="193.83" r="0.95" fill="#f5813a"/>
<circle cx="523.24" cy="190.66" r="0.95" fill="#2e9e46"/>
<circle cx="519.57" cy="187.76" r="0.95" fill="#f5813a"/>
<circle cx="515.69" cy="185.17" r="0.95" fill="#2e9e46"/>
<circle cx="511.61" cy="182.89" r="0.95" fill="#f5813a"/>
<circle cx="507.37" cy="180.93" r="0.95" fill="#2e9e46"/>
<circle cx="502.99" cy="179.31" r="0.95" fill="#f5813a"/>
<circle cx="498.49" cy="178.04" r="0.95" fill="#2e9e46"/>
<circle cx="493.91" cy="177.13" r="0.95" fill="#f5813a"/>
<circle cx="489.27" cy="176.58" r="0.95" fill="#2e9e46"/>
<circle cx="484.60" cy="176.40" r="0.95" fill="#f5813a"/>
<circle cx="479.93" cy="176.58" r="0.95" fill="#2e9e46"/>
<circle cx="475.29" cy="177.13" r="0.95" fill="#f5813a"/>
<circle cx="470.71" cy="178.04" r="0.95" fill="#2e9e46"/>
<circle cx="466.21" cy="179.31" r="0.95" fill="#f5813a"/>
<circle cx="461.83" cy="180.93" r="0.95" fill="#2e9e46"/>
<circle cx="457.59" cy="182.89" r="0.95" fill="#f5813a"/>
<circle cx="453.51" cy="185.17" r="0.95" fill="#2e9e46"/>
<circle cx="449.63" cy="187.76" r="0.95" fill="#f5813a"/>
<circle cx="445.96" cy="190.66" r="0.95" fill="#2e9e46"/>
<circle cx="442.53" cy="193.83" r="0.95" fill="#f5813a"/>
<circle cx="439.36" cy="197.26" r="0.95" fill="#2e9e46"/>
<circle cx="436.46" cy="200.93" r="0.95" fill="#f5813a"/>
<circle cx="433.87" cy="204.81" r="0.95" fill="#2e9e46"/>
<circle cx="431.59" cy="208.89" r="0.95" fill="#f5813a"/>
<circle cx="429.63" cy="213.13" r="0.95" fill="#2e9e46"/>
<circle cx="428.01" cy="217.51" r="0.95" fill="#f5813a"/>
<circle cx="426.74" cy="222.01" r="0.95" fill="#2e9e46"/>
<circle cx="425.83" cy="226.59" r="0.95" fill="#f5813a"/>
<circle cx="425.28" cy="231.23" r="0.95" fill="#2e9e46"/>
<circle cx="425.10" cy="235.90" r="0.95" fill="#f5813a"/>
<circle cx="425.28" cy="240.57" r="0.95" fill="#2e9e46"/>
<circle cx="425.83" cy="245.21" r="0.95" fill="#f5813a"/>
<circle cx="426.74" cy="249.79" r="0.95" fill="#2e9e46"/>
<circle cx="428.01" cy="254.29" r="0.95" fill="#f5813a"/>
<circle cx="429.63" cy="258.67" r="0.95" fill="#2e9e46"/>
<circle cx="431.59" cy="262.91" r="0.95" fill="#f5813a"/>
<circle cx="433.87" cy="266.99" r="0.95" fill="#2e9e46"/>
<circle cx="436.46" cy="270.87" r="0.95" fill="#f5813a"/>
<circle cx="439.36" cy="274.54" r="0.95" fill="#2e9e46"/>
<circle cx="442.53" cy="277.97" r="0.95" fill="#f5813a"/>
<circle cx="445.96" cy="281.14" r="0.95" fill="#2e9e46"/>
<circle cx="449.63" cy="284.04" r="0.95" fill="#f5813a"/>
<circle cx="453.51" cy="286.63" r="0.95" fill="#2e9e46"/>
<circle cx="457.59" cy="288.91" r="0.95" fill="#f5813a"/>
<circle cx="461.83" cy="290.87" r="0.95" fill="#2e9e46"/>
<circle cx="466.21" cy="292.49" r="0.95" fill="#f5813a"/>
<circle cx="470.71" cy="293.76" r="0.95" fill="#2e9e46"/>
<circle cx="475.29" cy="294.67" r="0.95" fill="#f5813a"/>
<circle cx="479.93" cy="295.22" r="0.95" fill="#2e9e46"/>
<circle cx="484.60" cy="295.40" r="0.95" fill="#f5813a"/>
<circle cx="489.27" cy="295.22" r="0.95" fill="#2e9e46"/>
<circle cx="493.91" cy="294.67" r="0.95" fill="#f5813a"/>
<circle cx="498.49" cy="293.76" r="0.95" fill="#2e9e46"/>
<circle cx="502.99" cy="292.49" r="0.95" fill="#f5813a"/>
<circle cx="507.37" cy="290.87" r="0.95" fill="#2e9e46"/>
<circle cx="511.61" cy="288.91" r="0.95" fill="#f5813a"/>
<circle cx="515.69" cy="286.63" r="0.95" fill="#2e9e46"/>
<circle cx="519.57" cy="284.04" r="0.95" fill="#f5813a"/>
<circle cx="523.24" cy="281.14" r="0.95" fill="#2e9e46"/>
<circle cx="526.67" cy="277.97" r="0.95" fill="#f5813a"/>
<circle cx="529.84" cy="274.54" r="0.95" fill="#2e9e46"/>
<circle cx="532.74" cy="270.87" r="0.95" fill="#f5813a"/>
<circle cx="535.33" cy="266.99" r="0.95" fill="#2e9e46"/>
<circle cx="537.61" cy="262.91" r="0.95" fill="#f5813a"/>
<circle cx="539.57" cy="258.67" r="0.95" fill="#2e9e46"/>
<circle cx="541.19" cy="254.29" r="0.95" fill="#f5813a"/>
<circle cx="542.46" cy="249.79" r="0.95" fill="#2e9e46"/>
<circle cx="543.37" cy="245.21" r="0.95" fill="#f5813a"/>
<circle cx="543.92" cy="240.57" r="0.95" fill="#2e9e46"/>
<text transform="translate(424.99 309.90) scale(1 1.08)" font-size="13.2" text-anchor="start" font-weight="normal" fill="#231815">max-cut value = 118</text>
<path d="M678.85 235.90L559.85 235.90M678.73 232.16L559.97 239.64M678.38 228.44L560.32 243.36M677.80 224.75L560.90 247.05M676.98 221.10L561.72 250.70M675.94 217.51L562.76 254.29M674.67 214.00L564.03 257.80M673.19 210.57L565.51 261.23M671.49 207.24L567.21 264.56M669.59 204.02L569.11 267.78M667.49 200.93L571.21 270.87M665.20 197.97L573.50 273.83M662.72 195.17L575.98 276.63M660.08 192.53L578.62 279.27M657.28 190.05L581.42 281.75M654.32 187.76L584.38 284.04M651.23 185.66L587.47 286.14M648.01 183.76L590.69 288.04M644.68 182.06L594.02 289.74M641.25 180.58L597.45 291.22M637.74 179.31L600.96 292.49M634.15 178.27L604.55 293.53M630.50 177.45L608.20 294.35M626.81 176.87L611.89 294.93M623.09 176.52L615.61 295.28M619.35 176.40L619.35 295.40M615.61 176.52L623.09 295.28M611.89 176.87L626.81 294.93M608.20 177.45L630.50 294.35M604.55 178.27L634.15 293.53M600.96 179.31L637.74 292.49M597.45 180.58L641.25 291.22M594.02 182.06L644.68 289.74M590.69 183.76L648.01 288.04M587.47 185.66L651.23 286.14M584.38 187.76L654.32 284.04M581.42 190.05L657.28 281.75M578.62 192.53L660.08 279.27M575.98 195.17L662.72 276.63M573.50 197.97L665.20 273.83M571.21 200.93L667.49 270.87M569.11 204.02L669.59 267.78M567.21 207.24L671.49 264.56M565.51 210.57L673.19 261.23M564.03 214.00L674.67 257.80M562.76 217.51L675.94 254.29M561.72 221.10L676.98 250.70M560.90 224.75L677.80 247.05M560.32 228.44L678.38 243.36M559.97 232.16L678.73 239.64" stroke="#000" stroke-width="0.42" fill="none"/>
<defs><radialGradient id="gb100"><stop offset="0" stop-color="#000" stop-opacity="0.9"/><stop offset="0.25" stop-color="#000" stop-opacity="0.6"/><stop offset="0.55" stop-color="#000" stop-opacity="0.22"/><stop offset="1" stop-color="#000" stop-opacity="0"/></radialGradient></defs><circle cx="619.35" cy="235.90" r="14.00" fill="url(#gb100)"/>
<path d="M678.85 235.90L678.73 232.16L678.38 228.44L677.80 224.75L676.98 221.10L675.94 217.51L674.67 214.00L673.19 210.57L671.49 207.24L669.59 204.02L667.49 200.93L665.20 197.97L662.72 195.17L660.08 192.53L657.28 190.05L654.32 187.76L651.23 185.66L648.01 183.76L644.68 182.06L641.25 180.58L637.74 179.31L634.15 178.27L630.50 177.45L626.81 176.87L623.09 176.52L619.35 176.40L615.61 176.52L611.89 176.87L608.20 177.45L604.55 178.27L600.96 179.31L597.45 180.58L594.02 182.06L590.69 183.76L587.47 185.66L584.38 187.76L581.42 190.05L578.62 192.53L575.98 195.17L573.50 197.97L571.21 200.93L569.11 204.02L567.21 207.24L565.51 210.57L564.03 214.00L562.76 217.51L561.72 221.10L560.90 224.75L560.32 228.44L559.97 232.16L559.85 235.90L559.97 239.64L560.32 243.36L560.90 247.05L561.72 250.70L562.76 254.29L564.03 257.80L565.51 261.23L567.21 264.56L569.11 267.78L571.21 270.87L573.50 273.83L575.98 276.63L578.62 279.27L581.42 281.75L584.38 284.04L587.47 286.14L590.69 288.04L594.02 289.74L597.45 291.22L600.96 292.49L604.55 293.53L608.20 294.35L611.89 294.93L615.61 295.28L619.35 295.40L623.09 295.28L626.81 294.93L630.50 294.35L634.15 293.53L637.74 292.49L641.25 291.22L644.68 289.74L648.01 288.04L651.23 286.14L654.32 284.04L657.28 281.75L660.08 279.27L662.72 276.63L665.20 273.83L667.49 270.87L669.59 267.78L671.49 264.56L673.19 261.23L674.67 257.80L675.94 254.29L676.98 250.70L677.80 247.05L678.38 243.36L678.73 239.64Z" stroke="#6aa6d6" stroke-width="0.7" fill="none"/>
<circle cx="678.85" cy="235.90" r="0.95" fill="#2e9e46"/>
<circle cx="678.73" cy="232.16" r="0.95" fill="#2e9e46"/>
<circle cx="678.38" cy="228.44" r="0.95" fill="#f5813a"/>
<circle cx="677.80" cy="224.75" r="0.95" fill="#2e9e46"/>
<circle cx="676.98" cy="221.10" r="0.95" fill="#f5813a"/>
<circle cx="675.94" cy="217.51" r="0.95" fill="#2e9e46"/>
<circle cx="674.67" cy="214.00" r="0.95" fill="#f5813a"/>
<circle cx="673.19" cy="210.57" r="0.95" fill="#2e9e46"/>
<circle cx="671.49" cy="207.24" r="0.95" fill="#f5813a"/>
<circle cx="669.59" cy="204.02" r="0.95" fill="#2e9e46"/>
<circle cx="667.49" cy="200.93" r="0.95" fill="#f5813a"/>
<circle cx="665.20" cy="197.97" r="0.95" fill="#2e9e46"/>
<circle cx="662.72" cy="195.17" r="0.95" fill="#f5813a"/>
<circle cx="660.08" cy="192.53" r="0.95" fill="#2e9e46"/>
<circle cx="657.28" cy="190.05" r="0.95" fill="#f5813a"/>
<circle cx="654.32" cy="187.76" r="0.95" fill="#2e9e46"/>
<circle cx="651.23" cy="185.66" r="0.95" fill="#f5813a"/>
<circle cx="648.01" cy="183.76" r="0.95" fill="#2e9e46"/>
<circle cx="644.68" cy="182.06" r="0.95" fill="#f5813a"/>
<circle cx="641.25" cy="180.58" r="0.95" fill="#2e9e46"/>
<circle cx="637.74" cy="179.31" r="0.95" fill="#f5813a"/>
<circle cx="634.15" cy="178.27" r="0.95" fill="#2e9e46"/>
<circle cx="630.50" cy="177.45" r="0.95" fill="#f5813a"/>
<circle cx="626.81" cy="176.87" r="0.95" fill="#2e9e46"/>
<circle cx="623.09" cy="176.52" r="0.95" fill="#f5813a"/>
<circle cx="619.35" cy="176.40" r="0.95" fill="#2e9e46"/>
<circle cx="615.61" cy="176.52" r="0.95" fill="#f5813a"/>
<circle cx="611.89" cy="176.87" r="0.95" fill="#2e9e46"/>
<circle cx="608.20" cy="177.45" r="0.95" fill="#f5813a"/>
<circle cx="604.55" cy="178.27" r="0.95" fill="#2e9e46"/>
<circle cx="600.96" cy="179.31" r="0.95" fill="#f5813a"/>
<circle cx="597.45" cy="180.58" r="0.95" fill="#2e9e46"/>
<circle cx="594.02" cy="182.06" r="0.95" fill="#f5813a"/>
<circle cx="590.69" cy="183.76" r="0.95" fill="#2e9e46"/>
<circle cx="587.47" cy="185.66" r="0.95" fill="#f5813a"/>
<circle cx="584.38" cy="187.76" r="0.95" fill="#2e9e46"/>
<circle cx="581.42" cy="190.05" r="0.95" fill="#f5813a"/>
<circle cx="578.62" cy="192.53" r="0.95" fill="#2e9e46"/>
<circle cx="575.98" cy="195.17" r="0.95" fill="#f5813a"/>
<circle cx="573.50" cy="197.97" r="0.95" fill="#2e9e46"/>
<circle cx="571.21" cy="200.93" r="0.95" fill="#f5813a"/>
<circle cx="569.11" cy="204.02" r="0.95" fill="#2e9e46"/>
<circle cx="567.21" cy="207.24" r="0.95" fill="#f5813a"/>
<circle cx="565.51" cy="210.57" r="0.95" fill="#2e9e46"/>
<circle cx="564.03" cy="214.00" r="0.95" fill="#f5813a"/>
<circle cx="562.76" cy="217.51" r="0.95" fill="#2e9e46"/>
<circle cx="561.72" cy="221.10" r="0.95" fill="#f5813a"/>
<circle cx="560.90" cy="224.75" r="0.95" fill="#2e9e46"/>
<circle cx="560.32" cy="228.44" r="0.95" fill="#f5813a"/>
<circle cx="559.97" cy="232.16" r="0.95" fill="#2e9e46"/>
<circle cx="559.85" cy="235.90" r="0.95" fill="#f5813a"/>
<circle cx="559.97" cy="239.64" r="0.95" fill="#2e9e46"/>
<circle cx="560.32" cy="243.36" r="0.95" fill="#f5813a"/>
<circle cx="560.90" cy="247.05" r="0.95" fill="#2e9e46"/>
<circle cx="561.72" cy="250.70" r="0.95" fill="#f5813a"/>
<circle cx="562.76" cy="254.29" r="0.95" fill="#2e9e46"/>
<circle cx="564.03" cy="257.80" r="0.95" fill="#f5813a"/>
<circle cx="565.51" cy="261.23" r="0.95" fill="#2e9e46"/>
<circle cx="567.21" cy="264.56" r="0.95" fill="#f5813a"/>
<circle cx="569.11" cy="267.78" r="0.95" fill="#2e9e46"/>
<circle cx="571.21" cy="270.87" r="0.95" fill="#f5813a"/>
<circle cx="573.50" cy="273.83" r="0.95" fill="#2e9e46"/>
<circle cx="575.98" cy="276.63" r="0.95" fill="#f5813a"/>
<circle cx="578.62" cy="279.27" r="0.95" fill="#2e9e46"/>
<circle cx="581.42" cy="281.75" r="0.95" fill="#f5813a"/>
<circle cx="584.38" cy="284.04" r="0.95" fill="#2e9e46"/>
<circle cx="587.47" cy="286.14" r="0.95" fill="#f5813a"/>
<circle cx="590.69" cy="288.04" r="0.95" fill="#2e9e46"/>
<circle cx="594.02" cy="289.74" r="0.95" fill="#f5813a"/>
<circle cx="597.45" cy="291.22" r="0.95" fill="#2e9e46"/>
<circle cx="600.96" cy="292.49" r="0.95" fill="#f5813a"/>
<circle cx="604.55" cy="293.53" r="0.95" fill="#2e9e46"/>
<circle cx="608.20" cy="294.35" r="0.95" fill="#f5813a"/>
<circle cx="611.89" cy="294.93" r="0.95" fill="#2e9e46"/>
<circle cx="615.61" cy="295.28" r="0.95" fill="#f5813a"/>
<circle cx="619.35" cy="295.40" r="0.95" fill="#2e9e46"/>
<circle cx="623.09" cy="295.28" r="0.95" fill="#f5813a"/>
<circle cx="626.81" cy="294.93" r="0.95" fill="#2e9e46"/>
<circle cx="630.50" cy="294.35" r="0.95" fill="#f5813a"/>
<circle cx="634.15" cy="293.53" r="0.95" fill="#2e9e46"/>
<circle cx="637.74" cy="292.49" r="0.95" fill="#f5813a"/>
<circle cx="641.25" cy="291.22" r="0.95" fill="#2e9e46"/>
<circle cx="644.68" cy="289.74" r="0.95" fill="#f5813a"/>
<circle cx="648.01" cy="288.04" r="0.95" fill="#2e9e46"/>
<circle cx="651.23" cy="286.14" r="0.95" fill="#f5813a"/>
<circle cx="654.32" cy="284.04" r="0.95" fill="#2e9e46"/>
<circle cx="657.28" cy="281.75" r="0.95" fill="#f5813a"/>
<circle cx="660.08" cy="279.27" r="0.95" fill="#2e9e46"/>
<circle cx="662.72" cy="276.63" r="0.95" fill="#f5813a"/>
<circle cx="665.20" cy="273.83" r="0.95" fill="#2e9e46"/>
<circle cx="667.49" cy="270.87" r="0.95" fill="#f5813a"/>
<circle cx="669.59" cy="267.78" r="0.95" fill="#2e9e46"/>
<circle cx="671.49" cy="264.56" r="0.95" fill="#f5813a"/>
<circle cx="673.19" cy="261.23" r="0.95" fill="#2e9e46"/>
<circle cx="674.67" cy="257.80" r="0.95" fill="#f5813a"/>
<circle cx="675.94" cy="254.29" r="0.95" fill="#2e9e46"/>
<circle cx="676.98" cy="250.70" r="0.95" fill="#f5813a"/>
<circle cx="677.80" cy="247.05" r="0.95" fill="#2e9e46"/>
<circle cx="678.38" cy="243.36" r="0.95" fill="#f5813a"/>
<circle cx="678.73" cy="239.64" r="0.95" fill="#2e9e46"/>
<text transform="translate(565.89 309.90) scale(1 1.08)" font-size="13.2" text-anchor="start" font-weight="normal" fill="#231815">max-cut value = 148</text>
<text transform="translate(-1.50 10.50) scale(1 1.0)" font-size="19.3" text-anchor="start" font-weight="bold" fill="#231815">a</text>
<text transform="translate(-0.45 181.90) scale(1 1.0)" font-size="19.3" text-anchor="start" font-weight="bold" fill="#231815">b</text>
<text transform="translate(-0.53 364.00) scale(1 1.0)" font-size="19.3" text-anchor="start" font-weight="bold" fill="#231815">c</text>
<text transform="translate(-0.42 672.70) scale(1 1.0)" font-size="19.3" text-anchor="start" font-weight="bold" fill="#231815">d</text>
<text transform="translate(360.73 672.70) scale(1 1.0)" font-size="19.3" text-anchor="start" font-weight="bold" fill="#231815">e</text>
<line x1="79.40" y1="369.6" x2="79.40" y2="596.9" stroke="#e6e6e6" stroke-width="0.8"/>
<line x1="52.5" y1="565.90" x2="647.2" y2="565.90" stroke="#e6e6e6" stroke-width="0.8"/>
<line x1="214.58" y1="369.6" x2="214.58" y2="596.9" stroke="#e6e6e6" stroke-width="0.8"/>
<line x1="52.5" y1="519.45" x2="647.2" y2="519.45" stroke="#e6e6e6" stroke-width="0.8"/>
<line x1="349.76" y1="369.6" x2="349.76" y2="596.9" stroke="#e6e6e6" stroke-width="0.8"/>
<line x1="52.5" y1="473.00" x2="647.2" y2="473.00" stroke="#e6e6e6" stroke-width="0.8"/>
<line x1="484.94" y1="369.6" x2="484.94" y2="596.9" stroke="#e6e6e6" stroke-width="0.8"/>
<line x1="52.5" y1="426.55" x2="647.2" y2="426.55" stroke="#e6e6e6" stroke-width="0.8"/>
<line x1="620.12" y1="369.6" x2="620.12" y2="596.9" stroke="#e6e6e6" stroke-width="0.8"/>
<line x1="52.5" y1="380.10" x2="647.2" y2="380.10" stroke="#e6e6e6" stroke-width="0.8"/>
<rect x="52.5" y="369.6" width="594.70" height="227.30" fill="none" stroke="#959595" stroke-width="1"/>
<line x1="49.2" y1="565.90" x2="52.5" y2="565.90" stroke="#8c8c8c" stroke-width="0.9"/>
<line x1="79.40" y1="596.9" x2="79.40" y2="599.9" stroke="#8c8c8c" stroke-width="0.9"/>
<text transform="translate(29.82 570.90) scale(1 1.08)" font-size="13.0" text-anchor="start" font-weight="normal" fill="#231815">20</text>
<text transform="translate(72.09 615.20) scale(1 1.08)" font-size="13.0" text-anchor="start" font-weight="normal" fill="#231815">20</text>
<line x1="49.2" y1="519.45" x2="52.5" y2="519.45" stroke="#8c8c8c" stroke-width="0.9"/>
<line x1="214.58" y1="596.9" x2="214.58" y2="599.9" stroke="#8c8c8c" stroke-width="0.9"/>
<text transform="translate(29.82 524.45) scale(1 1.08)" font-size="13.0" text-anchor="start" font-weight="normal" fill="#231815">40</text>
<text transform="translate(207.46 615.20) scale(1 1.08)" font-size="13.0" text-anchor="start" font-weight="normal" fill="#231815">40</text>
<line x1="49.2" y1="473.00" x2="52.5" y2="473.00" stroke="#8c8c8c" stroke-width="0.9"/>
<line x1="349.76" y1="596.9" x2="349.76" y2="599.9" stroke="#8c8c8c" stroke-width="0.9"/>
<text transform="translate(29.82 478.00) scale(1 1.08)" font-size="13.0" text-anchor="start" font-weight="normal" fill="#231815">60</text>
<text transform="translate(342.45 615.20) scale(1 1.08)" font-size="13.0" text-anchor="start" font-weight="normal" fill="#231815">60</text>
<line x1="49.2" y1="426.55" x2="52.5" y2="426.55" stroke="#8c8c8c" stroke-width="0.9"/>
<line x1="484.94" y1="596.9" x2="484.94" y2="599.9" stroke="#8c8c8c" stroke-width="0.9"/>
<text transform="translate(29.82 431.55) scale(1 1.08)" font-size="13.0" text-anchor="start" font-weight="normal" fill="#231815">80</text>
<text transform="translate(477.66 615.20) scale(1 1.08)" font-size="13.0" text-anchor="start" font-weight="normal" fill="#231815">80</text>
<line x1="49.2" y1="380.10" x2="52.5" y2="380.10" stroke="#8c8c8c" stroke-width="0.9"/>
<line x1="620.12" y1="596.9" x2="620.12" y2="599.9" stroke="#8c8c8c" stroke-width="0.9"/>
<text transform="translate(22.61 385.10) scale(1 1.08)" font-size="13.0" text-anchor="start" font-weight="normal" fill="#231815">100</text>
<text transform="translate(609.04 615.20) scale(1 1.08)" font-size="13.0" text-anchor="start" font-weight="normal" fill="#231815">100</text>
<text transform="translate(267.04 363.40) scale(1 1.08)" font-size="13.2" text-anchor="start" font-weight="normal" fill="#231815">Möbius Ladder with the CIM</text>
<text transform="translate(311.55 634.90) scale(1 1.08)" font-size="13.15" text-anchor="start" font-weight="normal" fill="#231815">Problem size</text>
<text transform="translate(11.10 533.43) rotate(-90) scale(1 1.08)" font-size="13.2" text-anchor="start" font-weight="normal" fill="#231815">Success rate (%)</text>
<line x1="79.40" y1="402.86" x2="79.40" y2="380.10" stroke="#f08a3e" stroke-width="1"/>
<line x1="75.20" y1="402.86" x2="83.60" y2="402.86" stroke="#f08a3e" stroke-width="1"/>
<line x1="75.20" y1="380.10" x2="83.60" y2="380.10" stroke="#f08a3e" stroke-width="1"/>
<line x1="214.58" y1="487.63" x2="214.58" y2="448.61" stroke="#f08a3e" stroke-width="1"/>
<line x1="210.38" y1="487.63" x2="218.78" y2="487.63" stroke="#f08a3e" stroke-width="1"/>
<line x1="210.38" y1="448.61" x2="218.78" y2="448.61" stroke="#f08a3e" stroke-width="1"/>
<line x1="349.76" y1="571.47" x2="349.76" y2="505.51" stroke="#f08a3e" stroke-width="1"/>
<line x1="345.56" y1="571.47" x2="353.96" y2="571.47" stroke="#f08a3e" stroke-width="1"/>
<line x1="345.56" y1="505.51" x2="353.96" y2="505.51" stroke="#f08a3e" stroke-width="1"/>
<line x1="484.94" y1="575.19" x2="484.94" y2="552.89" stroke="#f08a3e" stroke-width="1"/>
<line x1="480.74" y1="575.19" x2="489.14" y2="575.19" stroke="#f08a3e" stroke-width="1"/>
<line x1="480.74" y1="552.89" x2="489.14" y2="552.89" stroke="#f08a3e" stroke-width="1"/>
<line x1="620.12" y1="586.57" x2="620.12" y2="547.78" stroke="#f08a3e" stroke-width="1"/>
<line x1="615.92" y1="586.57" x2="624.32" y2="586.57" stroke="#f08a3e" stroke-width="1"/>
<line x1="615.92" y1="547.78" x2="624.32" y2="547.78" stroke="#f08a3e" stroke-width="1"/>
<polyline points="79.40,392.18 214.58,467.89 349.76,538.73 484.94,564.27 620.12,566.83" fill="none" stroke="#f08a3e" stroke-width="1.1"/>
<rect x="76.30" y="389.08" width="6.2" height="6.2" fill="#fff" stroke="#f08a3e" stroke-width="1.0"/>
<rect x="211.48" y="464.79" width="6.2" height="6.2" fill="#fff" stroke="#f08a3e" stroke-width="1.0"/>
<rect x="346.66" y="535.63" width="6.2" height="6.2" fill="#fff" stroke="#f08a3e" stroke-width="1.0"/>
<rect x="481.84" y="561.17" width="6.2" height="6.2" fill="#fff" stroke="#f08a3e" stroke-width="1.0"/>
<rect x="617.02" y="563.73" width="6.2" height="6.2" fill="#fff" stroke="#f08a3e" stroke-width="1.0"/>
<line x1="214.58" y1="390.4" x2="214.58" y2="398.1" stroke="#3080bc" stroke-width="1.2"/>
<path d="M211.98 387.5H217.18M214.58 384.90V390.10" stroke="#4a8fc6" stroke-width="0.85" opacity="0.85"/>
<path d="M211.98 401.0H217.18M214.58 398.40V403.60" stroke="#4a8fc6" stroke-width="0.85" opacity="0.85"/>
<line x1="210.38" y1="390.4" x2="218.78" y2="390.4" stroke="#3080bc" stroke-width="1"/>
<line x1="210.38" y1="398.1" x2="218.78" y2="398.1" stroke="#3080bc" stroke-width="1"/>
<line x1="349.76" y1="417.4" x2="349.76" y2="437.2" stroke="#3080bc" stroke-width="1.2"/>
<path d="M347.16 415H352.36M349.76 412.40V417.60" stroke="#4a8fc6" stroke-width="0.85" opacity="0.85"/>
<path d="M347.16 419.3H352.36M349.76 416.70V421.90" stroke="#4a8fc6" stroke-width="0.85" opacity="0.85"/>
<path d="M347.16 421.5H352.36M349.76 418.90V424.10" stroke="#4a8fc6" stroke-width="0.85" opacity="0.85"/>
<path d="M347.16 437.2H352.36M349.76 434.60V439.80" stroke="#4a8fc6" stroke-width="0.85" opacity="0.85"/>
<path d="M347.16 440.5H352.36M349.76 437.90V443.10" stroke="#4a8fc6" stroke-width="0.85" opacity="0.85"/>
<path d="M347.16 445.4H352.36M349.76 442.80V448.00" stroke="#4a8fc6" stroke-width="0.85" opacity="0.85"/>
<line x1="345.56" y1="417.4" x2="353.96" y2="417.4" stroke="#3080bc" stroke-width="1"/>
<line x1="345.56" y1="437.2" x2="353.96" y2="437.2" stroke="#3080bc" stroke-width="1"/>
<line x1="484.94" y1="452" x2="484.94" y2="475" stroke="#3080bc" stroke-width="1.2"/>
<path d="M482.34 447.3H487.54M484.94 444.70V449.90" stroke="#4a8fc6" stroke-width="0.85" opacity="0.85"/>
<path d="M482.34 452H487.54M484.94 449.40V454.60" stroke="#4a8fc6" stroke-width="0.85" opacity="0.85"/>
<path d="M482.34 454.5H487.54M484.94 451.90V457.10" stroke="#4a8fc6" stroke-width="0.85" opacity="0.85"/>
<path d="M482.34 470.3H487.54M484.94 467.70V472.90" stroke="#4a8fc6" stroke-width="0.85" opacity="0.85"/>
<path d="M482.34 475H487.54M484.94 472.40V477.60" stroke="#4a8fc6" stroke-width="0.85" opacity="0.85"/>
<path d="M482.34 480H487.54M484.94 477.40V482.60" stroke="#4a8fc6" stroke-width="0.85" opacity="0.85"/>
<path d="M482.34 482.3H487.54M484.94 479.70V484.90" stroke="#4a8fc6" stroke-width="0.85" opacity="0.85"/>
<line x1="480.74" y1="452" x2="489.14" y2="452" stroke="#3080bc" stroke-width="1"/>
<line x1="480.74" y1="475" x2="489.14" y2="475" stroke="#3080bc" stroke-width="1"/>
<line x1="620.12" y1="462.4" x2="620.12" y2="507.8" stroke="#3080bc" stroke-width="1.2"/>
<path d="M617.52 452.4H622.72M620.12 449.80V455.00" stroke="#4a8fc6" stroke-width="0.85" opacity="0.85"/>
<path d="M617.52 462.4H622.72M620.12 459.80V465.00" stroke="#4a8fc6" stroke-width="0.85" opacity="0.85"/>
<path d="M617.52 468.4H622.72M620.12 465.80V471.00" stroke="#4a8fc6" stroke-width="0.85" opacity="0.85"/>
<path d="M617.52 470.5H622.72M620.12 467.90V473.10" stroke="#4a8fc6" stroke-width="0.85" opacity="0.85"/>
<path d="M617.52 475.5H622.72M620.12 472.90V478.10" stroke="#4a8fc6" stroke-width="0.85" opacity="0.85"/>
<path d="M617.52 498.5H622.72M620.12 495.90V501.10" stroke="#4a8fc6" stroke-width="0.85" opacity="0.85"/>
<path d="M617.52 507.8H622.72M620.12 505.20V510.40" stroke="#4a8fc6" stroke-width="0.85" opacity="0.85"/>
<path d="M617.52 510.5H622.72M620.12 507.90V513.10" stroke="#4a8fc6" stroke-width="0.85" opacity="0.85"/>
<path d="M617.52 512.5H622.72M620.12 509.90V515.10" stroke="#4a8fc6" stroke-width="0.85" opacity="0.85"/>
<path d="M617.52 514.7H622.72M620.12 512.10V517.30" stroke="#4a8fc6" stroke-width="0.85" opacity="0.85"/>
<line x1="615.92" y1="462.4" x2="624.32" y2="462.4" stroke="#3080bc" stroke-width="1"/>
<line x1="615.92" y1="507.8" x2="624.32" y2="507.8" stroke="#3080bc" stroke-width="1"/>
<polyline points="79.40,380.10 214.58,394.73 349.76,427.48 484.94,463.48 620.12,485.08" fill="none" stroke="#3080bc" stroke-width="1.1"/>
<rect x="76.30" y="377.00" width="6.2" height="6.2" fill="#fff" stroke="#3080bc" stroke-width="1.0"/>
<rect x="211.48" y="391.63" width="6.2" height="6.2" fill="#fff" stroke="#3080bc" stroke-width="1.0"/>
<rect x="346.66" y="424.38" width="6.2" height="6.2" fill="#fff" stroke="#3080bc" stroke-width="1.0"/>
<rect x="481.84" y="460.38" width="6.2" height="6.2" fill="#fff" stroke="#3080bc" stroke-width="1.0"/>
<rect x="617.02" y="481.98" width="6.2" height="6.2" fill="#fff" stroke="#3080bc" stroke-width="1.0"/>
<rect x="509.9" y="378.7" width="128.5" height="50.6" rx="3" fill="#fff" fill-opacity="0.85" stroke="#dcdcdc" stroke-width="0.8"/>
<line x1="515.8" y1="390.8" x2="549.3" y2="390.8" stroke="#3080bc" stroke-width="1.1"/>
<line x1="532.8" y1="382.8" x2="532.8" y2="398.8" stroke="#3080bc" stroke-width="1"/>
<line x1="529.3" y1="382.8" x2="536.3" y2="382.8" stroke="#3080bc" stroke-width="1"/>
<line x1="529.3" y1="398.8" x2="536.3" y2="398.8" stroke="#3080bc" stroke-width="1"/>
<rect x="529.70" y="387.70" width="6.2" height="6.2" fill="#fff" stroke="#3080bc" stroke-width="1.0"/>
<text transform="translate(556.44 396.30) scale(1 1.08)" font-size="13.0" text-anchor="start" font-weight="normal" fill="#231815">This work</text>
<line x1="515.8" y1="413.8" x2="549.3" y2="413.8" stroke="#f08a3e" stroke-width="1.1"/>
<line x1="532.8" y1="405.8" x2="532.8" y2="421.8" stroke="#f08a3e" stroke-width="1"/>
<line x1="529.3" y1="405.8" x2="536.3" y2="405.8" stroke="#f08a3e" stroke-width="1"/>
<line x1="529.3" y1="421.8" x2="536.3" y2="421.8" stroke="#f08a3e" stroke-width="1"/>
<rect x="529.70" y="410.70" width="6.2" height="6.2" fill="#fff" stroke="#f08a3e" stroke-width="1.0"/>
<text transform="translate(555.66 419.90) scale(1 1.08)" font-size="13.0" text-anchor="start" font-weight="normal" fill="#231815">Ref [10]</text>
<rect x="219.14" y="878.51" width="10.36" height="20.39" fill="#5e8bc1" stroke="#55698a" stroke-width="0.6"/>
<rect x="260.58" y="692.69" width="10.36" height="206.21" fill="#5e8bc1" stroke="#55698a" stroke-width="0.6"/>
<rect x="63.5" y="672.3" width="228.20" height="226.60" fill="none" stroke="#8a8a8a" stroke-width="1"/>
<line x1="60.0" y1="898.90" x2="63.5" y2="898.90" stroke="#8a8a8a" stroke-width="0.9"/>
<text transform="translate(46.84 903.90) scale(1 1.08)" font-size="13.0" text-anchor="start" font-weight="normal" fill="#231815">0</text>
<line x1="60.0" y1="853.58" x2="63.5" y2="853.58" stroke="#8a8a8a" stroke-width="0.9"/>
<text transform="translate(39.62 858.58) scale(1 1.08)" font-size="13.0" text-anchor="start" font-weight="normal" fill="#231815">20</text>
<line x1="60.0" y1="808.26" x2="63.5" y2="808.26" stroke="#8a8a8a" stroke-width="0.9"/>
<text transform="translate(39.62 813.26) scale(1 1.08)" font-size="13.0" text-anchor="start" font-weight="normal" fill="#231815">40</text>
<line x1="60.0" y1="762.94" x2="63.5" y2="762.94" stroke="#8a8a8a" stroke-width="0.9"/>
<text transform="translate(39.62 767.94) scale(1 1.08)" font-size="13.0" text-anchor="start" font-weight="normal" fill="#231815">60</text>
<line x1="60.0" y1="717.62" x2="63.5" y2="717.62" stroke="#8a8a8a" stroke-width="0.9"/>
<text transform="translate(39.62 722.62) scale(1 1.08)" font-size="13.0" text-anchor="start" font-weight="normal" fill="#231815">80</text>
<line x1="60.0" y1="672.30" x2="63.5" y2="672.30" stroke="#8a8a8a" stroke-width="0.9"/>
<text transform="translate(32.41 677.30) scale(1 1.08)" font-size="13.0" text-anchor="start" font-weight="normal" fill="#231815">100</text>
<line x1="74.10" y1="898.9" x2="74.10" y2="902.4" stroke="#8a8a8a" stroke-width="0.9"/>
<text transform="translate(66.98 917.70) scale(1 1.08)" font-size="13.0" text-anchor="start" font-weight="normal" fill="#231815">40</text>
<line x1="125.90" y1="898.9" x2="125.90" y2="902.4" stroke="#8a8a8a" stroke-width="0.9"/>
<text transform="translate(118.81 917.70) scale(1 1.08)" font-size="13.0" text-anchor="start" font-weight="normal" fill="#231815">45</text>
<line x1="177.70" y1="898.9" x2="177.70" y2="902.4" stroke="#8a8a8a" stroke-width="0.9"/>
<text transform="translate(170.45 917.70) scale(1 1.08)" font-size="13.0" text-anchor="start" font-weight="normal" fill="#231815">50</text>
<line x1="229.50" y1="898.9" x2="229.50" y2="902.4" stroke="#8a8a8a" stroke-width="0.9"/>
<text transform="translate(222.28 917.70) scale(1 1.08)" font-size="13.0" text-anchor="start" font-weight="normal" fill="#231815">55</text>
<line x1="281.30" y1="898.9" x2="281.30" y2="902.4" stroke="#8a8a8a" stroke-width="0.9"/>
<text transform="translate(273.99 917.70) scale(1 1.08)" font-size="13.0" text-anchor="start" font-weight="normal" fill="#231815">60</text>
<text transform="translate(254.33 689.00) scale(1 1.08)" font-size="13.1" text-anchor="start" font-weight="normal" fill="#231815">91%</text>
<text transform="translate(143.04 937.30) scale(1 1.08)" font-size="13.15" text-anchor="start" font-weight="normal" fill="#231815">Cut number</text>
<text transform="translate(23.10 831.37) rotate(-90) scale(1 1.08)" font-size="13.2" text-anchor="start" font-weight="normal" fill="#231815">Number of runs</text>
<rect x="527.60" y="886.98" width="10.35" height="11.31" fill="#5e8bc1" stroke="#55698a" stroke-width="0.6"/>
<rect x="569.00" y="839.46" width="10.35" height="58.84" fill="#5e8bc1" stroke="#55698a" stroke-width="0.6"/>
<rect x="610.40" y="742.15" width="10.35" height="156.15" fill="#5e8bc1" stroke="#55698a" stroke-width="0.6"/>
<rect x="413.6" y="672.0" width="227.10" height="226.30" fill="none" stroke="#8a8a8a" stroke-width="1"/>
<line x1="410.1" y1="898.30" x2="413.6" y2="898.30" stroke="#8a8a8a" stroke-width="0.9"/>
<text transform="translate(397.64 903.30) scale(1 1.08)" font-size="13.0" text-anchor="start" font-weight="normal" fill="#231815">0</text>
<line x1="410.1" y1="853.04" x2="413.6" y2="853.04" stroke="#8a8a8a" stroke-width="0.9"/>
<text transform="translate(390.42 858.04) scale(1 1.08)" font-size="13.0" text-anchor="start" font-weight="normal" fill="#231815">20</text>
<line x1="410.1" y1="807.78" x2="413.6" y2="807.78" stroke="#8a8a8a" stroke-width="0.9"/>
<text transform="translate(390.42 812.78) scale(1 1.08)" font-size="13.0" text-anchor="start" font-weight="normal" fill="#231815">40</text>
<line x1="410.1" y1="762.52" x2="413.6" y2="762.52" stroke="#8a8a8a" stroke-width="0.9"/>
<text transform="translate(390.42 767.52) scale(1 1.08)" font-size="13.0" text-anchor="start" font-weight="normal" fill="#231815">60</text>
<line x1="410.1" y1="717.26" x2="413.6" y2="717.26" stroke="#8a8a8a" stroke-width="0.9"/>
<text transform="translate(390.42 722.26) scale(1 1.08)" font-size="13.0" text-anchor="start" font-weight="normal" fill="#231815">80</text>
<line x1="410.1" y1="672.00" x2="413.6" y2="672.00" stroke="#8a8a8a" stroke-width="0.9"/>
<text transform="translate(383.21 677.00) scale(1 1.08)" font-size="13.0" text-anchor="start" font-weight="normal" fill="#231815">100</text>
<line x1="424.10" y1="898.3" x2="424.10" y2="901.8" stroke="#8a8a8a" stroke-width="0.9"/>
<text transform="translate(413.02 917.00) scale(1 1.08)" font-size="13.0" text-anchor="start" font-weight="normal" fill="#231815">100</text>
<line x1="475.85" y1="898.3" x2="475.85" y2="901.8" stroke="#8a8a8a" stroke-width="0.9"/>
<text transform="translate(464.80 917.00) scale(1 1.08)" font-size="13.0" text-anchor="start" font-weight="normal" fill="#231815">105</text>
<line x1="527.60" y1="898.3" x2="527.60" y2="901.8" stroke="#8a8a8a" stroke-width="0.9"/>
<text transform="translate(516.97 917.00) scale(1 1.08)" font-size="13.0" text-anchor="start" font-weight="normal" fill="#231815">110</text>
<line x1="579.35" y1="898.3" x2="579.35" y2="901.8" stroke="#8a8a8a" stroke-width="0.9"/>
<text transform="translate(568.75 917.00) scale(1 1.08)" font-size="13.0" text-anchor="start" font-weight="normal" fill="#231815">115</text>
<line x1="631.10" y1="898.3" x2="631.10" y2="901.8" stroke="#8a8a8a" stroke-width="0.9"/>
<text transform="translate(620.02 917.00) scale(1 1.08)" font-size="13.0" text-anchor="start" font-weight="normal" fill="#231815">120</text>
<text transform="translate(603.60 737.10) scale(1 1.08)" font-size="13.1" text-anchor="start" font-weight="normal" fill="#231815">69%</text>
<text transform="translate(493.24 936.70) scale(1 1.08)" font-size="13.15" text-anchor="start" font-weight="normal" fill="#231815">Cut number</text>
<text transform="translate(373.10 830.92) rotate(-90) scale(1 1.08)" font-size="13.2" text-anchor="start" font-weight="normal" fill="#231815">Number of runs</text>
</svg></body></html>
